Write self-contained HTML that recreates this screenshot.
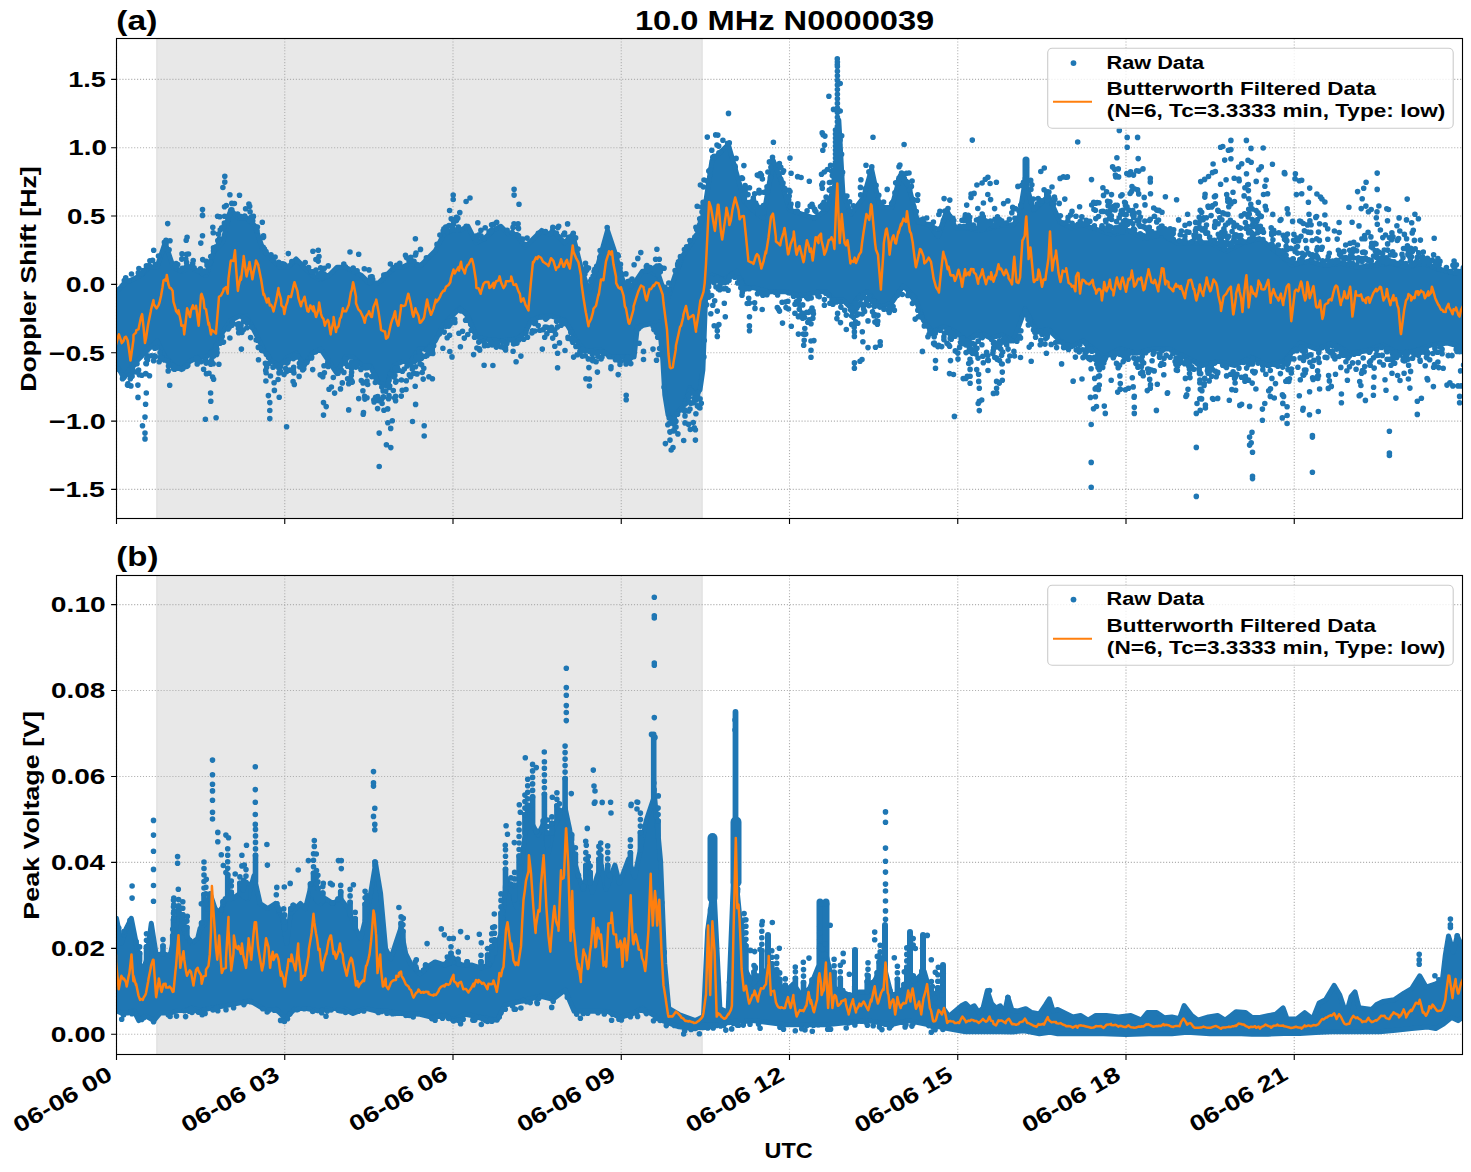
<!DOCTYPE html><html><head><meta charset="utf-8"><style>html,body{margin:0;padding:0;background:#fff;overflow:hidden}</style></head><body><svg width="1471" height="1172" viewBox="0 0 1471 1172" style="display:block">
<rect width="100%" height="100%" fill="#fff"/>
<defs><clipPath id="c1"><rect x="116.5" y="38.5" width="1346" height="480"/></clipPath><clipPath id="c2"><rect x="116.5" y="575.5" width="1346" height="479"/></clipPath></defs>
<g id="p1"><rect x="156.5" y="38.5" width="546" height="480.0" fill="#e8e8e8"/><path d="M156.9 38.5V518.5M702.1 38.5V518.5" stroke="#dfdfdf" stroke-width="1"/>
<path d="M116.50 38.5V518.5M284.75 38.5V518.5M453.00 38.5V518.5M621.25 38.5V518.5M789.50 38.5V518.5M957.75 38.5V518.5M1126.00 38.5V518.5M1294.25 38.5V518.5M116.5 489.40H1462.5M116.5 421.07H1462.5M116.5 352.73H1462.5M116.5 284.40H1462.5M116.5 216.06H1462.5M116.5 147.73H1462.5M116.5 79.39H1462.5" stroke="#b0b0b0" stroke-width="1.11" stroke-dasharray="1.11 1.83" fill="none"/>
<g clip-path="url(#c1)"><path d="M116.5 291.8 124.2 283.6 132.4 279.5 140.6 275.4 148.7 267.2 156.9 267.2 165.1 242.7 173.3 267.2 181.5 271.3 189.7 267.2 197.9 271.3 206.1 275.4 214.2 250.9 222.4 242.7 230.6 209.9 238.8 218.1 247 218.1 255.2 226.3 263.4 250.9 271.5 259 279.7 267.2 287.9 267.2 296.1 259 304.3 267.2 312.5 275.4 320.7 279.5 328.9 275.4 337 267.2 345.2 267.2 353.4 271.3 361.6 275.4 369.8 283.6 378 283.6 386.2 275.4 394.3 267.2 402.5 267.2 410.7 263.1 418.9 267.2 427.1 259 435.3 250.9 443.5 234.5 451.7 230.4 459.8 230.4 468 226.3 476.2 242.7 484.4 238.6 492.6 230.4 500.8 226.3 509 234.5 517.1 234.5 525.3 246.8 533.5 238.6 541.7 230.4 549.9 234.5 552.3 230.4 564.6 242.7 572.7 234.5 580.9 267.2 589.1 291.8 597.3 267.2 607.5 230.4 615.7 254.9 626 291.8 634.1 283.6 642.3 271.3 650.5 271.3 658.7 275.4 666.9 300 675.1 275.4 683.3 254.9 691.5 242.7 699.6 230.4 705.8 201.7 711.9 160.8 720.1 152.6 728.3 144.4 736.5 173.1 744.7 201.7 752.9 209.9 763.1 218.1 773.3 160.8 781.5 181.3 789.7 209.9 802 214 814.3 218.1 826.5 209.9 834.7 185.4 838.8 119.9 842.9 193.5 851.1 214 863.4 197.6 871.6 169 879.9 207.2 891.6 207.4 900.3 175.5 909 187.1 917.7 221.9 929.3 224.8 938.1 236.4 946.8 210.3 955.5 227.7 967.1 227.7 978.7 230.6 990.3 227.7 1001.9 224.8 1013.5 224.8 1019.3 216.1 1025.1 181.3 1033.8 210.3 1048.4 195.8 1060 221.9 1071.6 227.7 1083.2 224.8 1111.9 234.5 1128.3 230.4 1144.7 238.6 1161 234.5 1177.4 242.7 1193.8 242.7 1210.2 242.7 1226.5 250.9 1242.9 242.7 1259.3 238.6 1275.7 250.9 1292 265.2 1308.4 261.1 1324.8 265.2 1341.1 263.1 1357.5 267.2 1373.9 265.2 1390.3 263.1 1406.6 267.2 1423 263.1 1439.4 269.3 1455.8 273.4 1462.5 273.4 1462.5 347 1447.6 343 1431.2 345 1414.8 351.1 1398.5 353.2 1382.1 345 1365.7 351.1 1349.3 353.2 1333 343 1316.6 349.1 1300.2 343 1283.8 361.4 1267.5 365.5 1251.1 357.3 1234.7 365.5 1218.3 361.4 1202 365.5 1185.6 357.3 1169.2 349.1 1152.9 349.1 1136.5 353.2 1120.1 349.1 1103.7 357.3 1083.2 340.9 1071.6 346.7 1060 340.9 1048.4 329.3 1036.7 332.2 1025.1 309 1013.5 340.9 1001.9 335.1 990.3 338 978.7 332.2 967.1 340.9 955.5 332.2 943.9 326.4 932.2 332.2 923.5 320.6 914.8 297.4 903.2 285.8 891.6 303.2 879.9 307.4 867.5 291.8 859.3 295.9 851.1 308.2 842.9 300 834.7 300 826.5 291.8 818.3 291.8 802 295.9 785.6 291.8 769.2 291.8 752.9 287.7 744.7 287.7 736.5 271.3 724.2 279.5 711.9 275.4 705.8 291.8 702.9 370 700 390 695.1 394.9 689.8 388 684.9 403.9 677.9 412.1 671.8 419.9 668.1 415 664.8 394.9 662.8 360.1 659.1 322.1 637.4 326.6 634.1 356.9 610.8 356.9 600.2 349.9 585 351.1 576.8 340.9 564.6 320.4 552.3 316.3 541.7 316.3 531.1 320.4 525.3 332.7 517.1 338.9 500.8 340.9 484.4 338.9 476.2 336.8 468 316.3 459.8 308.2 451.7 316.3 443.5 324.5 435.3 340.9 427.1 349.1 418.9 349.1 410.7 361.4 402.5 361.4 394.3 365.5 386.2 385.9 378 381.8 369.8 365.5 361.6 365.5 353.4 357.3 345.2 357.3 337 373.7 328.9 361.4 320.7 349.1 312.5 353.2 304.3 365.5 296.1 353.2 287.9 357.3 279.7 365.5 271.5 361.4 263.4 349.1 255.2 332.7 247 316.3 238.8 316.3 230.6 320.4 222.4 332.7 214.2 349.1 206.1 357.3 197.9 357.3 189.7 361.4 181.5 369.6 173.3 365.5 165.1 357.3 156.9 340.9 148.7 349.1 140.6 357.3 132.4 365.5 124.2 377.7 116.5 365.5Z" fill="#1f77b4" stroke="#1f77b4" stroke-width="5" stroke-linejoin="round"/>
<path d="M1026 187.2V160" stroke="#1f77b4" stroke-width="7" stroke-linecap="round" fill="none"/>
<path d="M1047 200.2V192" stroke="#1f77b4" stroke-width="6" stroke-linecap="round" fill="none"/>
<path d="M145 417.1h0M145 433.1h0M145 438.9h0M202.5 209.6h0M202.5 215.4h0M202.5 235.8h0M187.1 237.2h0M167.7 223.6h0M224.8 176.3h0M224.8 182.1h0M269.8 402.6h0M269.8 410.5h0M269.8 418.6h0M286.6 426.7h0M323.5 415.1h0M323.5 402.6h0M205.4 419.2h0M216.1 417.7h0M169.7 385.2h0M153.7 250.3h0M318.3 250.3h0M514.1 189.3h0M514.1 195.1h0M453.2 195.1h0M453.2 199.5h0M470 198h0M415.4 238.7h0M348.7 409.9h0M363.2 414.2h0M379.2 466.5h0M379.2 433.1h0M386.4 444.7h0M390.8 447.6h0M412.5 421.5h0M424.2 425.8h0M424.2 436h0M557.6 353.3h0M557.6 367.8h0M548.9 328.6h0M479.3 348.9h0M517 343.1h0M348.7 383.8h0M351.6 372.2h0M728.5 113.4h0M700.4 185h0M700.4 222.2h0M717.8 135.1h0M743.9 165.6h0M759 175.8h0M759 190.3h0M574.4 339.9h0M589.4 386h0M589.4 379.1h0M597.4 372.1h0M626.2 395.2h0M626.2 399.8h0M643.5 359.5h0M643.5 351.4h0M665.4 443.6h0M670 432.1h0M670 440.1h0M685 415.9h0M685 422.9h0M695.4 429.8h0M695.4 440.1h0M717.3 311.1h0M717.3 330.7h0M717.3 336.4h0M725.3 316.8h0M749.5 316.8h0M749.5 330.7h0M747.2 303.5h0M762.2 309.5h0M779.5 311.1h0M837.3 58.9h0M837.3 64.7h0M822.2 132.9h0M822.8 150.3h0M824.3 172h0M873 137.2h0M904.1 144.5h0M972.3 140.1h0M985.3 179.3h0M996.4 182.2h0M840.2 83.5h0M841.7 135.8h0M798.4 316.8h0M798.4 334.1h0M811 323.7h0M811 341h0M811 350.3h0M811 357.2h0M824.4 299.6h0M824.4 305.3h0M836.4 301.9h0M837.6 313.4h0M846.3 329.5h0M854.4 336.4h0M854.4 362.9h0M854.4 368.2h0M857.8 323.3h0M864.1 304.9h0M877.4 324.2h0M880.2 341.7h0M880.2 345.2h0M891.7 309.5h0M907.8 295.4h0M922.4 351.4h0M935.5 360.6h0M935.5 368.2h0M947 343.3h0M950.5 360.6h0M953.5 374.5h0M954.4 416.4h0M963.2 378.6h0M970.1 369.4h0M970.1 376.3h0M970.1 383.2h0M979.3 388.3h0M979.3 401.4h0M979.3 410.6h0M996.6 381.4h0M996.6 388.3h0M996.6 392.9h0M1002.3 372.1h0M1002.3 380.2h0M997.3 359.5h0M1008.1 349.1h0M837.4 62h0M837.4 66.6h0M837.4 71.2h0M837.4 75.8h0M837.4 80.4h0M837.4 85h0M837.4 89.6h0M837.4 94.2h0M837.4 98.8h0M837.4 103.4h0M837.4 108h0M837.4 112.6h0M837.4 117.2h0M837.4 121.8h0M837.4 126.4h0M837.4 131h0M837.4 135.6h0M837.4 140.2h0M837.4 144.8h0M837.4 149.4h0M837.4 154h0M837.4 158.6h0M837.4 163.2h0M837.4 167.8h0M837.4 172.4h0M837.4 177h0M837.4 181.6h0M837.4 186.2h0M835.5 130h0M835.5 134h0M835.5 138h0M835.5 142h0M835.5 146h0M835.5 150h0M835.5 154h0M835.5 158h0M835.5 162h0M835.5 166h0M835.5 170h0M835.5 174h0M835.5 178h0M835.5 182h0M839.5 140h0M839.5 144.5h0M839.5 149h0M839.5 153.5h0M839.5 158h0M839.5 162.5h0M839.5 167h0M839.5 171.5h0M839.5 176h0M839.5 180.5h0M1077.7 142h0M1127.2 137.4h0M1137.6 137.4h0M1127.2 147.3h0M1116.9 157.7h0M1230.9 140.4h0M1230.9 149.6h0M1230.9 158.8h0M1220.6 147.3h0M1212.5 172.6h0M1220.6 184.2h0M1150.3 178.4h0M1150.3 181.9h0M1091.5 179.6h0M1066.2 177.2h0M1044.3 168h0M1040.8 171.5h0M1090.4 397.3h0M1134.1 397.3h0M1167.6 392.7h0M1201 398.5h0M1212.5 398.5h0M1073.1 381.2h0M1120.3 383.5h0M1120.3 389.3h0M1061.6 363.9h0M1091.2 424.5h0M1091.2 462.4h0M1091.2 487.3h0M1196.3 447.4h0M1196.3 496.4h0M1090.4 397.4h0M1093.5 408.8h0M1096.5 406.5h0M1105.3 413.4h0M1134.3 396.3h0M1134.3 407.3h0M1134.3 413.4h0M1156.4 410.4h0M1167.3 393.3h0M1196.3 413.4h0M1197 403.5h0M1201.6 398.9h0M1205.4 405h0M1205.4 408h0M1213.3 399.2h0M1229.3 400.2h0M1073.2 381.1h0M1082 379h0M1120.1 389h0M1125.4 389.8h0M1128.5 388.3h0M1150.3 388.3h0M1246.4 140.4h0M1251 148.4h0M1263.2 148h0M1251.2 162.3h0M1261.3 166.9h0M1284.4 172.6h0M1295.4 173.8h0M1301.7 180.2h0M1309.7 188.1h0M1377.2 173.1h0M1377.2 189.4h0M1378.9 206h0M1407.2 199.1h0M1406.5 219.9h0M1348.9 207.2h0M1434.2 238.3h0M1252 432.3h0M1249.6 437.1h0M1251.2 442.7h0M1249.6 445.1h0M1252.5 452.3h0M1252.5 476.2h0M1252.5 478.6h0M1312.4 435.5h0M1312.4 437.1h0M1312.4 472.2h0M1389.4 431.2h0M1389.4 453.1h0M1389.4 455.5h0M1262.4 420.3h0M1287.1 406.7h0M1287.1 415.5h0M1287.1 423.5h0M1282.3 417.9h0M1309.5 414.7h0M1318.3 411.5h0M1417.3 414.4h0M1417.3 401.2h0M1341.4 394h0M1341.4 402.7h0M1365.4 400.4h0M1459.6 396.4h0M1459.6 402.7h0M1241.6 404.3h0M1249.6 406.4h0M1262.4 409.1h0M1264.8 403.5h0M1270.3 396.4h0M1274.3 398h0M117 290.1h0M123.3 284.7h0M124.3 280.6h0M125.7 277.7h0M129.1 281.1h0M131.5 274h0M138.3 272.9h0M138.9 268.5h0M141.8 273.6h0M143.4 270.6h0M146.4 265.9h0M149.3 265.6h0M149.9 260.8h0M152.6 260.3h0M155.2 264.2h0M158.5 256h0M164.4 242.2h0M166.5 241.1h0M166 240.3h0M166 243.5h0M169.1 249.7h0M170 240.7h0M176 266.4h0M176.1 263.6h0M175.5 265.5h0M177.7 264.6h0M180.4 270.3h0M182 253.8h0M181.8 259.1h0M182.3 268.4h0M185.8 267.3h0M186.2 240.3h0M185.8 259.1h0M186.6 262.4h0M186.8 265.2h0M186.8 254.3h0M187.2 265.9h0M188.5 254h0M191.2 266.7h0M193.2 260.5h0M192.7 263.5h0M194.1 267.7h0M198.7 270.8h0M200.4 268.7h0M200.8 243.1h0M201.1 270.8h0M202.4 273.3h0M202.7 259.6h0M204.4 271h0M205.6 271.7h0M206.4 261.4h0M207.4 262.6h0M207 265.3h0M208.4 264.5h0M210.4 262h0M210.7 256.6h0M212.8 227.2h0M213.2 232.7h0M213.5 247.8h0M213.5 250.9h0M216 246.8h0M218.3 234.1h0M217.8 240.6h0M218.4 242.2h0M218.5 234h0M217.6 216.2h0M218.9 240.2h0M219.5 238.9h0M219.8 216.8h0M220.3 229.8h0M221.7 227.9h0M222.9 187.5h0M224.4 223.1h0M223.8 226.6h0M224.5 206.8h0M224.6 216.2h0M226.3 205.5h0M227.5 221.2h0M228 218.6h0M229.3 214.9h0M229.9 194.8h0M231.8 203.4h0M231.8 209.8h0M234.4 203.5h0M237.6 214h0M239.5 195.2h0M240.3 216.3h0M244.7 216.1h0M245.6 208.8h0M248.9 204h0M249.7 220.9h0M250.1 211.8h0M249.7 206.2h0M251.1 217.3h0M251.5 221.4h0M252.8 220.8h0M253.5 216.4h0M257.4 227.1h0M257 230.6h0M262.3 222.2h0M263.2 247.3h0M263.1 237.4h0M263.6 236.9h0M263.5 235.8h0M264.4 249h0M266 251.6h0M266.4 253.2h0M271 254.8h0M272.3 259.4h0M272 258.6h0M275.1 257.1h0M278.9 264.2h0M278.7 262.2h0M282.1 263.9h0M284 265.9h0M283.7 264h0M285.1 265.1h0M288.3 253.6h0M291.8 261.5h0M305.2 262.5h0M308.6 267.6h0M311.4 271.9h0M313.4 271.6h0M312.9 251.2h0M315.9 259.5h0M316 270h0M318 274.1h0M318.2 261.1h0M317.9 275.9h0M319 256.5h0M321.1 273h0M320.7 267.8h0M321.7 277.9h0M322.3 276.6h0M324 273.9h0M324.3 268.3h0M325.6 275.5h0M327.2 275.9h0M328.3 265.9h0M343.8 264.1h0M345.4 266.7h0M350 252h0M353.2 268.1h0M353.5 269.3h0M357.1 270.9h0M358.7 254.3h0M364.3 268.8h0M369 269.9h0M369.8 279.7h0M370 282.4h0M371.2 279.3h0M370.9 280.3h0M370.5 277.1h0M371.9 276.8h0M372.1 276.8h0M372.7 279.4h0M376.3 283.2h0M383.9 275.7h0M383.8 275.1h0M386.1 274.5h0M390.4 264h0M393.2 268.4h0M396.6 265.2h0M397.2 266.8h0M400.2 266.4h0M399.8 263.3h0M405.5 255.4h0M406.5 257.6h0M409 260.6h0M410.8 257.3h0M414 261.2h0M415.5 254.9h0M416 253h0M417.2 264.5h0M420.5 249.4h0M420.5 265h0M426.4 257.9h0M427.6 258.1h0M437 244.4h0M439.9 235h0M443.2 230.8h0M443.9 228.9h0M445.7 227.1h0M447.3 226.9h0M446.9 231.4h0M449 225.6h0M449.6 210.5h0M451.2 218.8h0M452.5 227.7h0M452.7 229.8h0M452.5 225.3h0M453.4 221.1h0M453.6 224h0M455 230h0M456.4 220.4h0M456.4 217.2h0M457 230.2h0M457.3 229.5h0M458.4 227.1h0M457.8 229.8h0M457.8 218.2h0M459.8 212.6h0M466.1 201.5h0M466.2 226.4h0M473.8 237.4h0M476.3 239.4h0M475.9 236.1h0M476.8 238.8h0M477.6 236h0M477.8 222.7h0M479 234.8h0M480.9 235.8h0M480.9 230.3h0M484 238.4h0M485.2 227.7h0M489.1 231.9h0M490.8 231.8h0M490.6 230.7h0M491.9 230h0M491.6 224.8h0M493.7 224.3h0M496.7 222.4h0M507.2 230.2h0M512.2 232.6h0M513 227.4h0M514 223.8h0M518.5 235.7h0M518.1 223.8h0M518.3 228h0M518.5 228.6h0M519 204.2h0M522.6 239h0M525.5 244.5h0M527.1 238.1h0M538.3 233.4h0M545.5 231.6h0M552.8 227.4h0M556.4 233.2h0M557.9 227.6h0M558.6 236.8h0M558.7 226.3h0M563.6 234.7h0M564.6 233.1h0M568.4 237.3h0M567.6 223.9h0M573.3 233.2h0M575.6 237.9h0M578 249h0M583.4 269.9h0M584.9 274h0M585.5 263.2h0M586.1 267.1h0M586.4 269.9h0M586.6 270.2h0M588.5 268.1h0M588 286h0M589.4 288.6h0M590.8 280.7h0M591.6 279.1h0M593.1 276.2h0M594.1 271.6h0M593.9 276h0M594.8 269.4h0M595.9 269.4h0M596.7 266.2h0M599.8 257.2h0M600.1 250.5h0M607.2 227.5h0M618.3 256h0M617.7 254.9h0M620.5 264.3h0M620.1 268.1h0M620.8 273.8h0M620.8 273.1h0M624.2 284.2h0M624.7 286h0M625.6 288.7h0M625.9 273.9h0M627.8 281.5h0M627.8 284.5h0M629.3 285.5h0M629.3 281.1h0M631.1 286h0M632 279.1h0M634.1 264.7h0M635 281.9h0M637.8 258.4h0M640.8 252.6h0M645.5 270.9h0M646.3 266.5h0M646.9 265.5h0M648.4 270.3h0M650.3 267.5h0M650.8 268.8h0M654.5 269.1h0M655.2 271h0M655.5 267.3h0M655.6 259.2h0M657.3 268.8h0M656.9 266h0M656.9 249.3h0M658 274.5h0M659.2 265.7h0M659.3 259.2h0M660.3 271.8h0M661.1 267.6h0M664.1 268.2h0M664.9 287.2h0M665.3 292.8h0M666.2 292.8h0M668.9 289.6h0M668.8 283h0M675.1 270.6h0M677.7 264h0M678.5 261.8h0M677.7 264.9h0M678.5 266.3h0M677.7 265.6h0M680.2 260.3h0M680.4 256.5h0M684.4 249.5h0M686.6 246.9h0M689.9 240.6h0M694.9 237.1h0M695.9 227.2h0M696.3 235.8h0M697.2 206.2h0M696.7 229.4h0M698.1 230.4h0M699.5 225h0M699.7 218.7h0M702 212h0M701.5 207.1h0M703.1 202.4h0M704 209.3h0M703.5 187h0M704 180h0M704.6 202.5h0M707.3 137.1h0M707.2 180.9h0M708.8 171.1h0M709.8 170.1h0M711.8 150.2h0M712.8 157.4h0M714 156.3h0M715.7 134.9h0M717 145.1h0M718.7 146.1h0M719 152.8h0M720.4 152.2h0M722.9 140.2h0M727.7 143.4h0M729.3 142.9h0M735.3 167.1h0M735 166h0M736.1 158.4h0M741.8 177.8h0M742.5 178.5h0M742.9 194.8h0M743.2 188h0M744.4 198.2h0M744.3 187.7h0M745 191.4h0M745.1 185.5h0M747.5 188h0M748 194.6h0M747.5 202.5h0M748.2 203.3h0M749.5 187.7h0M750 202.3h0M752 201.5h0M752.9 203.9h0M753.3 198h0M752.7 206.3h0M753.5 200h0M754.7 193.8h0M755.7 203.1h0M756.7 205.4h0M757.4 208.5h0M757.3 175.1h0M757.6 209.4h0M758.1 213.5h0M759.4 193h0M759.1 207.6h0M760.3 173.6h0M760.5 209.7h0M761.9 213.2h0M761.5 175.2h0M762.4 179h0M763.1 210.3h0M762.6 212.7h0M763.4 205.6h0M764.1 212.1h0M763.9 192.2h0M765.6 191.9h0M765.5 191.9h0M766.9 191.8h0M767.1 187.6h0M767 186.8h0M767.9 172h0M769.4 161.9h0M770.4 177.4h0M770.9 167.2h0M773.4 142.3h0M772.5 157.3h0M778.1 164.9h0M779.4 163.6h0M780.8 179.2h0M780.8 167.4h0M783 183h0M782.8 172.3h0M783.6 170.7h0M784.8 188.6h0M786.3 196.6h0M788.7 199.8h0M789.2 196h0M789.1 190.4h0M790.4 207.1h0M790.1 206.2h0M790 158.1h0M790 191.5h0M791 204h0M791.1 173.2h0M795.8 211.6h0M797.3 212.2h0M797.3 211.2h0M797.7 176.5h0M797.7 205.4h0M797.8 203.9h0M797.6 176.8h0M801.1 177.5h0M804.6 214.8h0M807.1 210.9h0M809.3 181.3h0M810.2 206h0M810.7 206.2h0M812 204.2h0M812.8 206.8h0M814.3 217.8h0M814.9 210.6h0M814.7 209.4h0M814.8 210.2h0M815.9 211.5h0M820.5 206.6h0M822.4 204.7h0M821.5 174.3h0M821.8 184.9h0M822.3 188.2h0M823.2 208.9h0M823.1 134.8h0M823.5 205.8h0M822.7 183h0M823.9 202.4h0M824.5 145.1h0M824.9 136.1h0M824.5 203.9h0M824.7 203.6h0M826.1 197h0M827.4 169.5h0M827.2 208.5h0M827 198h0M828.9 96.2h0M829.3 190.1h0M829.4 182.5h0M829.1 199h0M830.3 182.5h0M830.6 165.2h0M831.1 188.8h0M832.3 175.6h0M832.1 191.8h0M831.7 170.9h0M833.5 109.4h0M834.2 179.6h0M834.2 169.7h0M835.5 163.2h0M836.5 139.1h0M836.7 148.7h0M836.8 143.5h0M836.8 129.5h0M837.9 129.8h0M840.2 111h0M839.8 140.9h0M840.1 140.1h0M841.7 174.8h0M841.6 154.2h0M842.6 172.2h0M845.2 196.3h0M846.9 196.1h0M849.6 210.8h0M849.6 201.7h0M853.4 205.8h0M860.4 187.4h0M860.9 179.7h0M860.7 194.9h0M865.3 188.9h0M866 165.3h0M868.9 171.9h0M871.8 166.9h0M876.1 185.4h0M878.8 195.2h0M879.7 203.1h0M881.7 206.9h0M881.9 205.4h0M883.6 202h0M887.2 189.4h0M891.6 203.6h0M892.8 202.1h0M895.3 193.3h0M894.9 192.7h0M895.7 182.8h0M898.5 182.7h0M898 182.5h0M898.7 179.4h0M899 178.1h0M899 166.8h0M899.9 165h0M901.4 175h0M901.6 173h0M902.6 176.5h0M904 180.2h0M904.3 178.4h0M906.4 173.2h0M906.1 182.3h0M905.8 181.1h0M907.4 182.4h0M909 173h0M909.6 189.9h0M911.4 186.4h0M910.8 186.3h0M912.1 181h0M913.4 199.5h0M913.5 200.4h0M913.7 206.8h0M916.3 211.6h0M917.5 200.2h0M917.8 194.7h0M918.9 221.8h0M921.2 219.9h0M923.2 219h0M923.6 222.9h0M926.7 218h0M929.1 224.6h0M932 224.4h0M933.4 222.1h0M934.9 228.3h0M938.9 214.5h0M938.7 229.1h0M939.9 211.4h0M943.4 220.5h0M944.1 198.6h0M945 211h0M948 208.5h0M949.8 216.2h0M949.8 200.1h0M952.9 218.2h0M953.8 220.5h0M959.9 226.4h0M962 220.2h0M964.2 226.9h0M963.9 226.2h0M965 220.2h0M965.1 216.8h0M965.4 214.7h0M965.8 217.7h0M966.7 205.1h0M968.3 224.9h0M968.3 215.4h0M968.4 226.9h0M968.3 223.9h0M969.2 221.8h0M969.2 220.5h0M968.9 223.1h0M969.7 217.2h0M971.1 194.1h0M971 197.4h0M972.5 226.4h0M973.3 225h0M974.1 193.4h0M974.6 227.9h0M976.5 220h0M976.9 185h0M977.9 219.6h0M977.8 208.5h0M979.3 224.5h0M979.7 228.6h0M981 220.4h0M980.8 218h0M982.1 183h0M982.2 214.1h0M983.3 216.9h0M983.2 223.6h0M983.4 203h0M983 226.8h0M983.8 228.5h0M985.5 220.8h0M986.1 222.2h0M987.4 225.1h0M987.8 194.5h0M987.9 177.2h0M990.4 221h0M990.1 183.5h0M991.3 223.9h0M990.7 222.3h0M990.6 199.6h0M992.9 225.8h0M994.3 225.3h0M994.6 208.6h0M995 219.2h0M996.7 223.4h0M997.5 216.7h0M998.1 224.3h0M999.3 219.4h0M1001.7 220.7h0M1002 222.3h0M1003.6 203.6h0M1006.2 223.1h0M1007.9 200.9h0M1009.4 219.3h0M1011.8 212.7h0M1012.7 207.4h0M1013.3 208.6h0M1014.9 218.2h0M1015.6 208.7h0M1017.9 186.4h0M1019 211.1h0M1020.7 205.4h0M1021.2 205.9h0M1021.9 185.4h0M1024.3 186.7h0M1023.5 182.4h0M1025.4 178.5h0M1026.3 167.2h0M1026.6 181.9h0M1030.7 180.4h0M1030.9 189.5h0M1031.9 184.7h0M1031.5 202.2h0M1033.3 199.1h0M1034 208.9h0M1035.3 207.4h0M1037.5 203.8h0M1038.2 198.6h0M1041.1 200.7h0M1041.9 201.1h0M1044.1 189.8h0M1047 196.5h0M1048.9 192.1h0M1052 187h0M1053.5 203.9h0M1054.4 197.1h0M1053.6 204h0M1054.9 199.3h0M1059.2 203.4h0M1060.1 178.4h0M1060.3 215.7h0M1062.5 222.7h0M1063.4 176.9h0M1064.8 199.1h0M1066 222.9h0M1067.4 176.9h0M1068.1 217.4h0M1067.9 220.7h0M1070.6 214.9h0M1072.1 223.4h0M1072 211.4h0M1074.2 225.7h0M1076 216.3h0M1078.1 224.2h0M1079 224.6h0M1079.7 224h0M1079.6 206.8h0M1080.2 221.5h0M1081.8 216.9h0M1083.1 224.3h0M1083.5 224.4h0M1086.3 220.2h0M1087.3 223.9h0M1089.9 221.3h0M1091.7 205h0M1093.9 227.4h0M1093.7 202.3h0M1094.4 225.8h0M1093.9 209.5h0M1095.4 210.3h0M1095.8 218.6h0M1095.8 203.3h0M1097.2 202.5h0M1098.9 202.7h0M1098.5 216.5h0M1101.4 211.5h0M1101.8 226.9h0M1102 225.7h0M1102.9 227.7h0M1103.1 211.4h0M1102.9 187.8h0M1103.5 195.4h0M1105.6 220.2h0M1105.9 221.6h0M1106.1 230.3h0M1106.8 211.9h0M1106.6 191.8h0M1108 213.2h0M1108.2 225.9h0M1108.1 205.8h0M1107.6 201.2h0M1109.3 218.2h0M1109.6 229.9h0M1109.9 201.8h0M1110.6 210.3h0M1111.5 194.6h0M1111.3 215.7h0M1110.5 226.9h0M1111.6 219.5h0M1112.6 166.9h0M1112.8 206.7h0M1114.3 231.8h0M1113.9 207.6h0M1115.1 209.9h0M1115.4 175.1h0M1115.1 227.9h0M1114.7 169.2h0M1115.5 205.2h0M1116.5 221.6h0M1115.8 177h0M1117.2 205.4h0M1118.3 168.9h0M1117.7 228h0M1117.8 227.5h0M1119.3 228.2h0M1119.3 130.4h0M1118.6 176.9h0M1119.2 217.7h0M1119.7 231.3h0M1120.8 196h0M1121.1 224.8h0M1121.3 210.7h0M1120.6 214.5h0M1120.7 230h0M1122.1 194.8h0M1122.5 231.7h0M1122 213.8h0M1122.8 231.3h0M1122.8 210.3h0M1123.8 222.6h0M1123.5 221.6h0M1125.4 203h0M1124.7 214.5h0M1125.2 220.4h0M1125.2 227.7h0M1124.5 227.8h0M1124.6 202.3h0M1125.4 205.3h0M1126.2 214.6h0M1126.3 207.8h0M1126 225.6h0M1126.6 223.6h0M1126.8 173.6h0M1127 206.7h0M1127.5 224.5h0M1127.8 221.4h0M1129 174.8h0M1128.8 210.1h0M1130.1 193.5h0M1130.7 171.7h0M1130.6 231.1h0M1130.7 221.8h0M1131.9 231.2h0M1132 186.6h0M1132.3 214.5h0M1131.5 191.6h0M1133 213.1h0M1132.7 210.5h0M1132.9 223.7h0M1133.5 175.1h0M1133.7 212.8h0M1134 215.4h0M1133.6 228.9h0M1133.6 217.3h0M1134.4 188.7h0M1134.6 229.9h0M1135.9 205.7h0M1136.7 170.8h0M1137.2 220.4h0M1138.2 158.6h0M1137.6 189.9h0M1139 220.6h0M1138.9 212.5h0M1138.7 193.9h0M1138.8 171.1h0M1138.9 224.6h0M1140.1 226.3h0M1140.2 233.9h0M1140.3 217.1h0M1142.1 226.5h0M1143 168.9h0M1143.1 235.5h0M1144 226.9h0M1144.2 197.4h0M1145 204.9h0M1144.8 221.1h0M1145.8 228.2h0M1145.7 227.8h0M1147 237.5h0M1146.8 235.7h0M1148 231h0M1149.2 233.3h0M1148.9 234.3h0M1149.3 220.5h0M1149.3 227.4h0M1150.3 219.3h0M1150 235.5h0M1150.5 193.7h0M1151.8 231.6h0M1152 233.7h0M1153.4 236.2h0M1153.7 208h0M1154.4 216.3h0M1155 235.6h0M1155.7 233.4h0M1155.5 234.5h0M1157 235.4h0M1156.7 221.9h0M1156.7 210.1h0M1158.5 220h0M1158.5 232.2h0M1158.9 210.4h0M1158.9 228.2h0M1160.4 229.4h0M1161.2 226.4h0M1161.9 232.7h0M1162 212.3h0M1162 226h0M1162.9 231.5h0M1165.4 196.8h0M1164.9 228.8h0M1164.7 230.5h0M1166.4 233.1h0M1166.2 236h0M1165.8 230.7h0M1168.3 237.8h0M1168.6 235.3h0M1169.6 236.6h0M1170.2 228.9h0M1170.6 238.7h0M1171.2 231.4h0M1171.1 236.5h0M1171.8 234.7h0M1172.2 233.9h0M1173.3 239.4h0M1172.8 233.1h0M1173.2 233.4h0M1173.7 229.8h0M1176.6 199.7h0M1179.2 240.7h0M1178.6 219.9h0M1180.2 234.7h0M1181.4 231.1h0M1184.2 240.5h0M1184.9 236.3h0M1185 225.2h0M1184.7 242.4h0M1184.9 239.9h0M1186.8 231.8h0M1187.6 214.3h0M1189.4 223.6h0M1189 232.3h0M1191.7 241.7h0M1194 235.2h0M1194.5 238.1h0M1195.4 230.5h0M1195.6 233.1h0M1195.6 222.4h0M1196.1 228.5h0M1198.3 237.2h0M1198.9 223.2h0M1199.3 228.2h0M1199.4 236.4h0M1199.2 217.3h0M1200.2 227.9h0M1200.2 210.3h0M1199.9 240.9h0M1200.1 240.5h0M1201.4 242.5h0M1200.9 228.7h0M1200.7 181.6h0M1200.6 219.9h0M1202.1 229.9h0M1201.7 212.2h0M1203.1 219.7h0M1203.5 217.9h0M1205.1 228.2h0M1204.8 197.1h0M1205.1 231.4h0M1205.1 194.2h0M1204.6 179.4h0M1206.5 225h0M1205.9 233.2h0M1206.3 217.8h0M1208.4 206.2h0M1207.6 232.9h0M1208.5 176.5h0M1208.4 207.2h0M1208 206.2h0M1209.7 237h0M1209.6 237.4h0M1211.1 215.6h0M1210.8 240.5h0M1211.6 206.9h0M1213.1 164h0M1212.7 205.6h0M1214.4 196.7h0M1214.3 240.3h0M1215.3 203.7h0M1214.7 225.4h0M1214.6 227.2h0M1215.3 221.6h0M1215.3 171.5h0M1215.6 243h0M1215.5 195.9h0M1218.1 223.7h0M1217.8 210.4h0M1218.3 234.2h0M1219.2 237.5h0M1219 243.6h0M1218.5 211.3h0M1219.9 244.9h0M1219.8 217.7h0M1220.3 235.1h0M1220.4 241.2h0M1219.7 243.5h0M1221.3 240.9h0M1221.9 219.8h0M1222.4 236.8h0M1221.8 232.3h0M1222.8 212.9h0M1222.7 146.5h0M1223.8 235.8h0M1224 249.5h0M1223.9 228.9h0M1224 230.2h0M1224.6 246.9h0M1224.6 234.5h0M1225 232.7h0M1224.7 160.1h0M1224.9 242.8h0M1224.8 213.7h0M1225.6 225h0M1226.4 242.9h0M1226.1 179.8h0M1227.4 237.7h0M1226.7 194.6h0M1227.1 243.7h0M1226.9 242.6h0M1227.9 214.4h0M1227.7 198.8h0M1228.4 150.2h0M1227.8 237.4h0M1227.8 201.5h0M1228.2 222.9h0M1228.8 206.8h0M1228.6 236.3h0M1229.3 199.8h0M1230.4 220.3h0M1230.2 204.1h0M1230 245.7h0M1231.3 242.9h0M1231 203.8h0M1232.1 231.5h0M1231.7 246h0M1233 192.3h0M1233.9 226.8h0M1234.4 201.5h0M1234.2 178.2h0M1233.8 239.9h0M1233.5 222.8h0M1234.3 236.5h0M1234.1 238.5h0M1235.8 241.9h0M1235.8 234.7h0M1236.4 235.1h0M1236.8 225.4h0M1238.4 236.2h0M1239.4 235.9h0M1239.2 227.6h0M1239.2 180.8h0M1238.9 179.1h0M1238.7 241.8h0M1238.6 167.1h0M1240.6 228.1h0M1241.2 215.9h0M1240.5 239.6h0M1240.9 235.6h0M1241.7 163.7h0M1241.8 240.6h0M1243.4 241.9h0M1244.1 195.9h0M1244.9 187.8h0M1244.5 213.9h0M1245.4 222.6h0M1245.9 228.3h0M1246.5 173.8h0M1247.1 226.2h0M1248.2 216.9h0M1248.1 229.8h0M1247.7 184.7h0M1248 160.2h0M1248.4 190.6h0M1248.3 184.5h0M1248.7 209.2h0M1248.8 198.8h0M1248.6 232.7h0M1249.3 214h0M1249.8 230.6h0M1249.7 239.3h0M1249.7 232.6h0M1249.9 239.7h0M1250 240.6h0M1250.8 204.3h0M1251.1 232.3h0M1252.3 238.3h0M1252.1 208.9h0M1252.2 219.5h0M1251.9 233.5h0M1251.5 239.9h0M1252.1 225.5h0M1253.4 238.6h0M1252.9 226.4h0M1252.6 235.4h0M1253 223.8h0M1254.1 234.2h0M1256.1 210.5h0M1256.2 181.4h0M1257.2 227.7h0M1256.7 221.4h0M1257.5 219.5h0M1257.7 232.7h0M1257.7 229.1h0M1258.1 212.8h0M1257.8 226.6h0M1257.9 213.5h0M1258.4 202.2h0M1258.8 169.7h0M1260.4 226.4h0M1259.8 215.6h0M1260.4 231.1h0M1261.3 216.4h0M1262.6 229.5h0M1263 239.5h0M1263.5 194.5h0M1263.5 232.3h0M1265.3 206.4h0M1264.9 186.3h0M1266.2 180h0M1266.2 209.8h0M1267.6 193.7h0M1271.2 227.7h0M1271.4 244.3h0M1271.7 234.8h0M1272.4 164.2h0M1271.7 232.9h0M1272.1 244.8h0M1272.9 239.7h0M1272.7 214.4h0M1273.7 230.2h0M1274.2 233.2h0M1275.5 247.4h0M1278.3 245h0M1277.8 251.6h0M1279.2 250.6h0M1278.8 232.8h0M1279.7 252.9h0M1280.1 220.5h0M1281 219.6h0M1283.3 235.4h0M1282.6 250.7h0M1283.4 253.4h0M1284.5 239.3h0M1284.3 173.2h0M1284.9 173.7h0M1286.1 255.2h0M1286.1 246.3h0M1286.1 239.4h0M1286.6 241.3h0M1287.2 208.9h0M1286.9 249.7h0M1286.9 240.9h0M1287.5 234.1h0M1287.4 259.5h0M1288 213.7h0M1290.7 260.1h0M1290.8 248.4h0M1291.7 261.8h0M1292.6 221.4h0M1292.9 258.7h0M1293.3 259.1h0M1293.9 234.2h0M1293.6 240.2h0M1294.9 241.2h0M1295 178.7h0M1295.1 251.4h0M1296.2 247.5h0M1296.4 194.6h0M1296 263.8h0M1297.4 253.1h0M1297.1 263.2h0M1296.9 238.1h0M1297.5 246.6h0M1298.5 240.7h0M1298.8 239.3h0M1299.4 180.7h0M1299.7 221h0M1299.8 259.6h0M1301 236.2h0M1301.4 261.3h0M1300.9 221.6h0M1300.9 262.1h0M1301.7 193.8h0M1302.5 257.7h0M1302.2 253.4h0M1303.3 223.5h0M1304.4 230.7h0M1304.5 254.9h0M1305.6 240.5h0M1306.6 248.4h0M1307.5 224.9h0M1308.4 202.3h0M1308.2 253h0M1308 232.1h0M1309 214.3h0M1309.9 220.8h0M1310.1 254.5h0M1311.1 224.7h0M1311.3 259.7h0M1310.8 232.4h0M1312.5 254.7h0M1312.2 240.5h0M1312.5 257.4h0M1316.2 255.3h0M1316.1 256.9h0M1315.8 217.4h0M1316.7 238.7h0M1316.5 216.6h0M1316.9 194h0M1317.4 257.1h0M1316.9 249.9h0M1316.9 256.2h0M1318.1 258.5h0M1317.5 247.5h0M1318.5 232.1h0M1319.4 240.4h0M1320.5 197h0M1319.6 223.7h0M1321.4 249.2h0M1321.9 199h0M1322.2 247.2h0M1322.6 260.8h0M1323.5 262.6h0M1324.9 202h0M1325.2 224.8h0M1325.3 265h0M1324.9 215h0M1328.3 256.5h0M1327.8 239.2h0M1327.7 228.7h0M1327.8 259.5h0M1329.3 253.3h0M1329.5 263.3h0M1329.3 264.6h0M1329.9 262.2h0M1332.7 261.1h0M1334.4 231h0M1335.4 262.5h0M1336.3 260.2h0M1337.2 239.1h0M1338.4 250.2h0M1338.1 260.7h0M1339.2 232.5h0M1339.1 222.5h0M1339.6 254.3h0M1341.3 256.8h0M1343.1 251.7h0M1343.9 260.3h0M1344 251.4h0M1345.7 257.5h0M1346.2 258.2h0M1345.7 245h0M1349.2 264.1h0M1349.1 259.6h0M1350.1 243.3h0M1349.7 250.2h0M1350.6 255.2h0M1352.2 252.7h0M1352.1 222.2h0M1352.5 263.2h0M1351.9 252.5h0M1353.4 249h0M1353 257.5h0M1353.7 242.4h0M1353.7 258h0M1354.7 250.3h0M1356.4 266.8h0M1357.4 245h0M1356.5 265.1h0M1356.7 250.8h0M1357.6 191.6h0M1358.5 260.9h0M1358.4 257.9h0M1359 225.9h0M1361.2 208.6h0M1361.9 258.5h0M1361.6 258.9h0M1362.2 198.7h0M1361.9 238.7h0M1362.1 261.5h0M1362.6 252.2h0M1363.7 188.3h0M1364.4 258.4h0M1364.1 252.1h0M1364.9 238.8h0M1364.6 235.6h0M1365.5 258h0M1365.2 252.5h0M1366.1 182.3h0M1365.9 206.1h0M1367.4 260.1h0M1366.8 265.7h0M1368.4 211.8h0M1368.1 232.2h0M1368.9 259.9h0M1371.2 264h0M1371.3 260.7h0M1370.9 236.9h0M1371.3 247h0M1371.2 209.5h0M1371.7 243.4h0M1372.4 247.8h0M1373.6 256h0M1375.2 250.8h0M1374.9 243.4h0M1376.3 217.8h0M1376.2 257.2h0M1376 244h0M1376.2 257.2h0M1375.8 251.8h0M1377.4 263.2h0M1377.2 250.7h0M1377 211.7h0M1377.3 224.2h0M1377.7 258.1h0M1378.5 252.7h0M1378.7 252h0M1378.7 262.9h0M1380.4 230h0M1381.8 257.8h0M1382.2 260.9h0M1382.8 237.6h0M1382.6 253.4h0M1384.3 262h0M1384.3 250h0M1383.6 261.7h0M1386.5 263h0M1385.5 235h0M1386.1 257.7h0M1386.8 208.8h0M1387.5 220.7h0M1387.6 250.1h0M1387.6 243.9h0M1387.8 261.1h0M1388.5 260.4h0M1388.5 209.5h0M1390.3 255h0M1389.5 237.7h0M1391.4 261.6h0M1391.6 239.7h0M1391.9 232.9h0M1393 236.7h0M1392.7 251.7h0M1394 261.9h0M1394 255.2h0M1395 254.8h0M1396.4 263.7h0M1396.9 225.7h0M1397.3 240.5h0M1397.9 263.6h0M1398.6 238.5h0M1399.1 217.9h0M1399.8 231h0M1401.3 261.8h0M1402 254.4h0M1403 257.8h0M1403.5 248.5h0M1404.4 234.4h0M1405.7 263.6h0M1405.7 248.5h0M1407.4 245.7h0M1406.6 238.8h0M1407.9 254.4h0M1408.2 250.2h0M1409 255.7h0M1410.5 258.5h0M1410.3 261h0M1409.7 256.7h0M1411.5 256.7h0M1411.2 265.1h0M1410.8 248.4h0M1411.7 222.8h0M1412.4 251.5h0M1412.2 232.9h0M1413.3 230.3h0M1413.4 264.5h0M1414.4 240.4h0M1413.8 263.3h0M1414.9 214.3h0M1415.2 248.9h0M1416.2 261.8h0M1415.6 262.5h0M1417.3 257.4h0M1418.4 218.8h0M1419.3 262.2h0M1418.7 252.9h0M1420.4 240.1h0M1422.3 259.1h0M1423.3 252.1h0M1422.5 256.9h0M1423.5 261.3h0M1425.7 261.5h0M1427.4 258.4h0M1427.5 262.1h0M1429.2 263.9h0M1432.3 266.5h0M1432.2 260.1h0M1433.6 254.7h0M1435.3 264.2h0M1435.4 261.9h0M1437.6 266.3h0M1437.9 258.6h0M1439.3 268.9h0M1439.1 264.7h0M1440 261.4h0M1446.4 267.6h0M1450.3 271.6h0M1450.5 271.8h0M1452.9 265.2h0M1454.1 261.1h0M1454.1 267.6h0M1455.5 273h0M1454.6 266.8h0M1456.4 264.8h0M1457.3 271.2h0M1458.5 272.2h0M1460.3 271.5h0M1463.3 267.9h0M1465.2 272.4h0M1469.3 268.3h0M117.7 369h0M122.5 378.8h0M122.5 374.9h0M127.5 385.1h0M127.9 383.9h0M130.3 378.7h0M129.6 374.8h0M130.9 385.9h0M132.1 376.2h0M131.7 374.4h0M132.7 371.5h0M132.6 367.8h0M134.1 371.7h0M134.7 364.4h0M136.9 371.9h0M137 363.7h0M136.5 363.6h0M138 397.4h0M137.9 385.1h0M138.6 370h0M139.3 374.7h0M141.8 375.2h0M142.5 425.7h0M145.7 373.5h0M146 373.7h0M145.6 404.3h0M146.4 363.7h0M145.9 363.6h0M146.3 393h0M146.8 358.5h0M147.5 355.7h0M147.5 360h0M149.5 375.8h0M151.3 355.7h0M153.6 360.7h0M154.2 355.9h0M155.2 356.4h0M154.8 348.3h0M156.8 347.6h0M159.2 361.8h0M160.2 357.2h0M160.1 352.6h0M162 357.9h0M164.4 359.9h0M168.2 370.9h0M168.5 366h0M167.9 361.5h0M170.5 364.7h0M172.8 365.6h0M173.5 368.7h0M174.6 369.3h0M175.9 367.8h0M178.1 368.3h0M182.9 368.6h0M186.7 366.5h0M187.8 365.4h0M195.8 358.4h0M197.2 363.9h0M197.5 357.8h0M196.9 360.4h0M200 361.3h0M200.9 361.8h0M203.6 369.2h0M205.4 360.2h0M206.1 363.1h0M206.4 373.7h0M209 373.3h0M210.6 361.9h0M210.8 401.3h0M210.6 353.3h0M211.2 360.7h0M210.8 364.3h0M210.6 393h0M212 362.3h0M212 357.5h0M213.2 363.7h0M212.6 377.1h0M213.6 379.2h0M214.4 351.4h0M213.9 355.8h0M216.2 345.6h0M216.3 346.9h0M216.6 354.4h0M217.1 352.7h0M216.9 349.2h0M219.3 342.8h0M218.9 364.2h0M220 343.2h0M221.1 339.3h0M222.2 336.4h0M223.5 342.1h0M228.1 328.9h0M229.1 327.5h0M229.9 338h0M232.4 322h0M231.9 325.2h0M237.3 324.4h0M238.4 328.5h0M238.7 332.7h0M239 323.8h0M241 325.5h0M241.4 349.1h0M241.8 332.5h0M243.4 329.7h0M243 317.4h0M243.6 321.5h0M245.6 319h0M246.9 327.8h0M247.4 320.5h0M247 322.8h0M250.6 337.6h0M251.7 327.1h0M256.2 340h0M258.3 347.4h0M258.5 359.8h0M257.5 340.3h0M259.4 347.6h0M261.6 350.2h0M262.6 350.6h0M265.4 363.4h0M265.7 370.4h0M265.9 381h0M266.3 354.3h0M266.1 372.7h0M267.3 354.6h0M266.7 367.3h0M268.4 395.6h0M268.8 363.5h0M268.6 357.6h0M270.5 376h0M273 367.2h0M274.1 382.7h0M274.4 390.4h0M275.9 365.9h0M277.1 364.8h0M278.1 379.5h0M279 368.3h0M279 372.9h0M279.2 397.3h0M279.9 368.6h0M280.5 366.5h0M280.6 371.7h0M282.8 362.6h0M284 374.5h0M285.7 368.5h0M286.6 371.6h0M286.9 363.1h0M287.8 362.3h0M288.6 359.8h0M290 370.1h0M293.1 381.5h0M293.4 370.3h0M293.4 358.6h0M293.7 367.3h0M294.3 384.4h0M293.9 373h0M294.7 355.5h0M295.1 357.5h0M297.4 355.8h0M299.4 363.2h0M299.1 376.4h0M299.8 367h0M303.3 365.5h0M302.7 370h0M303.8 368.8h0M307 362.3h0M311.5 357.9h0M311.7 357.2h0M312.7 369.6h0M315.6 351.8h0M320.2 374.7h0M320.7 374.9h0M322.8 376.7h0M324 365.8h0M324.4 372.7h0M326.2 406.6h0M327.8 362.4h0M328.2 366.4h0M329 389.2h0M331.4 387h0M333.3 377.5h0M334.6 393.1h0M338.1 373.3h0M340.5 388.9h0M341.4 370.4h0M342.3 382.9h0M343.9 372.4h0M345.3 363.2h0M345.4 358.7h0M346.1 359.1h0M346 363.4h0M347.6 378.7h0M347.6 366.3h0M349.7 365.5h0M351.3 375.6h0M351.5 368.4h0M352.3 382.1h0M351.6 380.6h0M351.7 362.1h0M354.3 364.6h0M355.9 367.1h0M356.8 366.1h0M356.6 362.1h0M358.7 398.6h0M360.9 369.4h0M361.3 380.6h0M363.5 412.5h0M362.9 390.8h0M363 382.9h0M364.8 366h0M364.6 396.2h0M364.9 399.1h0M365 366.9h0M365.6 368h0M366.8 375.1h0M367 381.1h0M367.4 367.6h0M367 397.7h0M368.4 366.1h0M367.7 384.5h0M368.3 365.8h0M368.8 366.2h0M371.7 376.6h0M374.5 375.1h0M373.8 400h0M374.1 401.9h0M375.3 382.5h0M375.9 378.1h0M375.6 397.4h0M377.4 381.1h0M377.8 396.6h0M377.6 408.6h0M378.6 400.6h0M381.5 399.5h0M382.1 403.5h0M381.8 387h0M383.1 390.9h0M383.5 396.9h0M383.9 410.3h0M385.7 391.1h0M388.5 398.7h0M388.3 383.2h0M387.8 422.7h0M387.7 408.9h0M389 395.6h0M389.1 380.2h0M389.2 397.4h0M389.4 387.4h0M389.7 386h0M390.7 428.4h0M390.5 373.9h0M392.3 420.7h0M393.3 390.5h0M394.2 377.1h0M394.9 375.5h0M395.3 368.8h0M394.7 397.9h0M396 371h0M395.7 382.1h0M396.2 381.1h0M396 367.9h0M395.6 396.4h0M395.6 400.8h0M397.5 367.7h0M398.7 370.3h0M401.4 380h0M401.3 396.1h0M402.2 390.2h0M402.4 371.3h0M404.3 369h0M406 389.5h0M406.3 380.7h0M407 365.9h0M409.3 374.9h0M410.6 376.7h0M410.9 364.8h0M412.3 369.1h0M413.6 373.5h0M414.2 373.3h0M415.5 366.7h0M414.7 361.2h0M415.2 386.2h0M415.6 404.4h0M415.8 357.7h0M417 373.9h0M416.5 356.8h0M418.4 357.3h0M417.6 359.2h0M419.4 351.7h0M420.1 363.7h0M420.2 358.4h0M419.8 356.4h0M421.5 358.2h0M421.1 355.1h0M422.2 372.5h0M421.6 364.8h0M423.2 379.1h0M423.8 368.2h0M425.4 356.2h0M426.4 350h0M427 355.4h0M427.1 350.3h0M429.4 349h0M428.9 376.7h0M430 353.5h0M430.5 347.2h0M432.4 378.8h0M432.3 351.1h0M432.3 349.7h0M432.8 353.4h0M433.7 345.8h0M438.8 333.6h0M439.5 333.7h0M441.7 331.3h0M442 331.5h0M442.9 348.3h0M444.2 332.1h0M445.9 326.5h0M447.2 337.7h0M447.7 322h0M449.2 321.3h0M448.8 326.1h0M449.6 335.2h0M450.2 324.1h0M449.8 351.5h0M450.4 322.1h0M452 356.9h0M454.7 319.3h0M454.9 322.4h0M458.9 333.3h0M460.4 309.3h0M460.4 346.7h0M460.9 311h0M462.5 331.3h0M464.3 338.1h0M465.6 320.3h0M466.5 319.5h0M467.4 318h0M467 319.2h0M467.8 334.5h0M468.8 320.4h0M470.7 324.2h0M471.2 330.2h0M473.6 354.6h0M474.5 337.3h0M476.9 348h0M478.8 342.1h0M479.7 350.1h0M483.4 341.3h0M484.5 345.8h0M484.1 365.3h0M484.6 343.9h0M488 345.5h0M489 339.8h0M490.2 343.4h0M490.8 341.8h0M492.1 345h0M493 343.9h0M492.9 365.5h0M496.3 347.1h0M497.4 342.9h0M501 346.7h0M502.1 341.2h0M503.2 341.7h0M503.5 347.4h0M505.5 347.8h0M505.6 349.9h0M506.9 343.4h0M509.9 339.8h0M512.9 340.1h0M513.1 351.3h0M513.6 344h0M514.5 343.4h0M516.1 361.7h0M518.8 340.1h0M520.9 356.1h0M523.7 339.3h0M526 332.7h0M527.5 337.3h0M531.9 333h0M532.4 330.7h0M532.8 320.1h0M533.6 319.7h0M535.5 322.2h0M534.9 331h0M534.6 323.4h0M538.2 325.6h0M539.9 330.2h0M541.6 316.9h0M542.3 349.1h0M543.2 329.6h0M545.1 327h0M544.8 317.2h0M544.7 337.3h0M545.7 319.1h0M546.9 327.2h0M546.9 333.8h0M547.1 317.7h0M550.2 327.7h0M549.9 330.3h0M551.5 327.2h0M552.7 330.5h0M552.7 338.1h0M554.8 329.8h0M554.8 346.3h0M555.6 334.3h0M556.6 321.3h0M558.3 320h0M557.5 326.9h0M559.5 342.9h0M561.1 325.2h0M561.9 322.8h0M562.7 320.6h0M565.2 323.4h0M565 350.5h0M568.1 338.5h0M568 337.2h0M571.4 332h0M570.8 332.3h0M572.1 340.5h0M572.3 338h0M572.3 338h0M572.8 342.3h0M573.6 357.1h0M575.9 346.4h0M577.4 346.5h0M577.2 354.8h0M579.9 351.6h0M581.1 349.9h0M580.6 350.1h0M582.3 356.1h0M582.4 350.5h0M582.7 349.4h0M585.3 355.7h0M585.9 378.7h0M588.3 358.9h0M588.9 367.6h0M589.5 351.3h0M591 350.7h0M592.3 353.9h0M592.5 360.6h0M592.7 358.5h0M592.9 352.3h0M594.8 352.9h0M596.1 361.7h0M598 356.5h0M598 352.2h0M601.1 359h0M602 357h0M603.3 353.4h0M603 352.4h0M609.1 356.6h0M610.9 368.6h0M611 366.8h0M615.5 359.8h0M617.5 357.4h0M618.2 374.6h0M618.8 360.2h0M619.5 360.1h0M620 364.5h0M620.7 361.6h0M625.3 359.9h0M626 363.9h0M627.1 357.4h0M629.4 362.1h0M630.6 357.9h0M630.8 363.6h0M636.6 330.7h0M639.1 343.3h0M638.9 328.2h0M641.3 326.1h0M653.1 326.1h0M653 349.1h0M653.9 329.4h0M655.4 329.5h0M654.9 327.3h0M656.3 332.2h0M656.5 360.2h0M658.4 354.6h0M657.7 337.3h0M657.7 331h0M658.2 334.9h0M658.9 325.5h0M659.4 334h0M659.1 325.1h0M659.2 327.5h0M659.2 327.4h0M658.7 334.5h0M660.4 336.4h0M659.6 348.5h0M661.4 348.8h0M664 387.3h0M667.8 424.7h0M669.2 417.9h0M669.2 423.6h0M669.9 431.8h0M671.2 450h0M671.4 419.9h0M673.2 423.6h0M673.2 430.9h0M673.1 418.9h0M673 447.6h0M674.4 430.5h0M675 427.2h0M674.6 419.1h0M675.9 421.4h0M676 427.1h0M677.9 433.9h0M677.6 414.3h0M682.3 410h0M683.7 440.5h0M685.4 403.8h0M684.7 411.3h0M684.6 409.8h0M688.3 395.6h0M688.9 397.2h0M688.7 410.9h0M689 401.7h0M688.6 424.4h0M689.1 394.5h0M690.3 429.5h0M690 409h0M690.7 403.2h0M690.6 390.1h0M693.3 422.5h0M692.7 403h0M692.7 393h0M694 402h0M694.3 398.2h0M694.3 427.8h0M694.7 399.9h0M696.1 399.9h0M695.9 413.7h0M697.4 405.9h0M698 392.5h0M697.6 395.2h0M699.3 407.4h0M700.1 398.7h0M699.9 408h0M701.3 403.2h0M704.3 340.5h0M703.9 356.9h0M706.7 304.8h0M708 296.6h0M707.9 292.1h0M708.8 297.1h0M708.7 286.8h0M711.5 278.4h0M710.8 281h0M710.8 313.8h0M711.7 295.5h0M712.8 305.3h0M713 280.4h0M714.2 325.7h0M714 282.6h0M714.7 300.8h0M716 287h0M716.6 277.9h0M716.9 326.6h0M718.2 280.3h0M718.4 289h0M718.9 324.6h0M719.7 289.7h0M720.1 284.4h0M720.9 279.6h0M722.8 281.9h0M723.5 281.4h0M723.7 288.8h0M724.3 303.3h0M724.6 282.7h0M726 288.5h0M727 282h0M727.2 281.6h0M728.1 290.3h0M729 280.5h0M729.1 278.5h0M730.1 276.8h0M732.1 274.3h0M734.8 277.2h0M737.7 282.9h0M739 278.3h0M740.8 287.8h0M740.9 283.8h0M741.3 283.6h0M741.2 282.4h0M742.3 292.5h0M742 295.2h0M744.3 288.6h0M745.4 289h0M747.3 288.3h0M749.4 325.9h0M748.7 298.2h0M749.4 303.1h0M749.2 288.8h0M754.6 302.7h0M755 308.4h0M757.5 293.7h0M758.5 292.2h0M759.9 292.7h0M763.2 294.1h0M762.8 295.3h0M766.9 294.7h0M768 292.5h0M775.2 292.3h0M777.3 307.5h0M777.6 294.9h0M778.5 309.2h0M782.5 323.1h0M782.1 302.2h0M785.5 302h0M786 307.6h0M787.9 301.3h0M788.5 309h0M788.7 292.7h0M791.3 326.3h0M793.5 296.2h0M795.1 295.6h0M795 304.3h0M794.9 313.3h0M796.4 295.8h0M795.8 295.1h0M796.3 301.7h0M799.3 299.7h0M798.6 316h0M799.3 309.2h0M799.6 305.1h0M802 313.1h0M803.3 334.1h0M802.7 304.9h0M802.7 318.2h0M804.2 340.3h0M804.5 317.3h0M803.7 345.2h0M804.8 328.5h0M805.7 334.1h0M806.7 312.3h0M806.7 297.6h0M807.8 322.2h0M808.3 312.5h0M807.9 298.8h0M809.2 319.8h0M810.6 310.7h0M811.2 298h0M812 308h0M813.1 311.1h0M812.9 318.3h0M813.4 313.7h0M813.9 340.6h0M817.2 293.7h0M818 295.9h0M817.6 292.6h0M819.2 296.6h0M825.8 293.2h0M828.9 295.4h0M829.9 303.3h0M832 300h0M832.9 304.3h0M834.1 300.3h0M836.9 318.6h0M840.5 322.6h0M840.9 307.1h0M840.8 301.9h0M844.7 310.3h0M846.3 315.1h0M850.6 309.8h0M851.7 324.4h0M851.7 316h0M852.2 311.8h0M852.2 308.2h0M853.5 317.3h0M854.4 331.9h0M854.2 327.3h0M854.9 302.9h0M855.1 310.4h0M855.5 321.9h0M855.8 304.2h0M856.9 315.1h0M857.2 303.8h0M856.9 307.9h0M858.1 305.7h0M858.4 314.1h0M858.9 298h0M859 303.9h0M860 361.2h0M861 303.9h0M861 298.4h0M862.2 314h0M862.4 304.9h0M862 359.5h0M862.3 331.7h0M862.9 341.7h0M863.1 295.1h0M863.6 309h0M864.6 311.4h0M866.2 303.1h0M865.8 298.6h0M868 320.9h0M868 347.6h0M867.6 300h0M869 297.1h0M868.9 305.6h0M869.5 296.2h0M872.5 311.7h0M872.2 301.4h0M873.3 300.8h0M872.9 301.1h0M874.2 306.4h0M874 315.7h0M874.2 301.3h0M874.9 322.1h0M875.3 314.9h0M875.5 347.2h0M876.2 305.7h0M876.8 320.7h0M878 315.2h0M877.8 321.2h0M883.9 309.3h0M888.3 310h0M889.2 312.4h0M889.1 306.9h0M890.5 309.2h0M893.1 306.6h0M894.4 310.2h0M897.3 295.5h0M899.3 292.3h0M902.3 294.5h0M908.6 293.5h0M910.7 295.1h0M912.2 296.7h0M912.4 303.5h0M913.4 298.8h0M912.7 296.4h0M915.2 319.1h0M917.8 310.2h0M918.4 316.8h0M921.7 317.1h0M924.3 325.9h0M925.7 325.6h0M927.9 336.7h0M929.1 334.2h0M929.9 331h0M930.7 332.3h0M934.2 336.8h0M933.6 343.4h0M934.3 343h0M934.6 344.6h0M935.2 333.5h0M935.6 330.9h0M937.9 346.6h0M938.6 345.3h0M940.1 330.3h0M941.7 346.6h0M944.5 333h0M943.9 339.6h0M943.9 336.9h0M947 329.9h0M947.4 332.4h0M949.5 373.6h0M948.7 344.8h0M949 329.4h0M950.5 335.7h0M949.6 346.2h0M950.2 338.5h0M951.3 339.2h0M951.9 332.9h0M953.2 334.3h0M955.3 350.9h0M955 336.3h0M958 359.1h0M957.8 353.1h0M959.6 347.4h0M961.1 344h0M961.2 339.3h0M960.6 342.5h0M963 338.4h0M964.2 341.2h0M964.9 340.8h0M965.9 378.4h0M965.8 345h0M965.8 341.9h0M966.1 352.6h0M967.3 376.3h0M967.5 341.4h0M969.4 347.7h0M968.7 363.5h0M968.9 351.4h0M969.9 342.8h0M970 359.3h0M971.2 349.3h0M970.9 362h0M972.4 343.6h0M973.1 337.5h0M972.6 353.5h0M973.9 336h0M975.3 351.8h0M974.6 344.4h0M976.2 348.3h0M976.1 353.9h0M976.4 335.5h0M976.7 369.6h0M977 348.3h0M978.2 403.5h0M978 358.1h0M978.2 341.1h0M978.6 374.2h0M978.7 381.4h0M980.2 334.9h0M980.2 335.7h0M981.7 400h0M982.3 337.6h0M981.9 344.8h0M983.3 362.7h0M982.8 356.2h0M986.6 352.2h0M988 370.5h0M988.3 360.4h0M987.8 355.5h0M987.8 360.1h0M991.6 339.5h0M993.5 343.2h0M992.9 353.4h0M993.2 350.8h0M993.4 393.4h0M993.7 347.9h0M994.8 357.5h0M994.5 342.6h0M996.2 345.3h0M996.5 358h0M995.6 343.1h0M996.6 343.3h0M997 346.9h0M998.1 345.6h0M999.3 383.1h0M1000 344.2h0M999.7 340.8h0M999.5 360.5h0M1000.8 349.1h0M1001.6 355.2h0M1002.2 364h0M1001.6 363.7h0M1002.7 352h0M1004.2 342.1h0M1003.7 339.3h0M1004.4 341.5h0M1005.3 338.6h0M1006.7 345h0M1008.1 360.7h0M1009.3 340.8h0M1009.8 356h0M1011.4 340.6h0M1013.9 351.4h0M1014.5 356h0M1016.9 341.3h0M1019.4 336.4h0M1019 337.5h0M1020.9 330.7h0M1020.5 337.9h0M1020.5 357.5h0M1025.5 311.3h0M1027.3 315.5h0M1027.1 315.4h0M1027 315.5h0M1028.4 324.9h0M1028 319.3h0M1029.2 347.1h0M1029 317h0M1028.8 316.9h0M1030.5 323.7h0M1029.6 320.5h0M1031.2 361.3h0M1031.3 344.5h0M1033.5 330h0M1034.3 326.7h0M1034.8 332.3h0M1035.6 337.2h0M1035.5 332.3h0M1040.2 344.7h0M1040.8 340.2h0M1040.5 331.2h0M1041.9 334.3h0M1043.4 333.2h0M1045 344.1h0M1046.4 353.2h0M1045.8 338.5h0M1046.3 330.3h0M1047.4 335.3h0M1047.1 337.3h0M1048 330.7h0M1047.6 331.7h0M1049.4 330.8h0M1051.2 344.4h0M1055.7 342.6h0M1056.6 347.6h0M1059.2 341.8h0M1063 343.1h0M1063.9 346.6h0M1063.6 347.6h0M1066 347.1h0M1066.8 345.1h0M1068.3 345.4h0M1068.5 349.4h0M1075.4 357.1h0M1076.2 350h0M1078 349.1h0M1077.9 349.2h0M1079.2 352h0M1079.9 344.6h0M1082.6 349.8h0M1083 357.6h0M1085.1 354.4h0M1085.8 343.4h0M1087.2 348.3h0M1086.8 351.2h0M1087.7 350.2h0M1087.7 357.2h0M1088.8 358.6h0M1089.2 348.7h0M1090.1 357.5h0M1090.3 359.6h0M1091.1 368.8h0M1091.1 349.1h0M1091.9 351.3h0M1094.3 357.2h0M1094.7 378.4h0M1095.4 359.5h0M1095.2 388.9h0M1095.4 396.7h0M1096.2 387.7h0M1095.7 358.7h0M1096.8 364.1h0M1098.4 357.2h0M1098.5 389.4h0M1097.6 355.9h0M1098 367.6h0M1097.5 361.1h0M1098.5 376.4h0M1099.3 385.1h0M1099.3 369.7h0M1099.5 375.7h0M1100.2 359.8h0M1100.3 365h0M1100.1 360.4h0M1102.7 367.4h0M1104.4 360.3h0M1103.8 363h0M1103.9 360.6h0M1104.3 406.1h0M1105.5 358.1h0M1104.7 359.6h0M1111.2 380.2h0M1111 354.7h0M1113.3 357.7h0M1113 352.9h0M1112.5 354.4h0M1114.3 355.6h0M1116.5 363.4h0M1117.7 392.1h0M1117.8 353h0M1118.2 367.7h0M1118.9 353.2h0M1119.3 354.1h0M1119.6 365.2h0M1119.9 375.9h0M1120.7 353.5h0M1122.5 355.1h0M1122 349.6h0M1122.9 354.1h0M1123.2 361.6h0M1124.2 356.8h0M1126.1 353.3h0M1127.8 357.3h0M1128.2 359.2h0M1129.1 353.5h0M1129.1 351.5h0M1132.3 377.8h0M1132.1 352.6h0M1133.2 386.9h0M1133.8 358.1h0M1135.9 363.4h0M1136.4 360.8h0M1137.9 358.8h0M1137.9 367.3h0M1139.4 366.4h0M1141.4 366.8h0M1140.6 373.3h0M1142.2 356.6h0M1141.7 360.6h0M1142.4 372.1h0M1142.1 361.2h0M1143.3 352.1h0M1143.2 375.7h0M1143.7 363h0M1145.7 352.8h0M1147.3 390.6h0M1147.5 350.6h0M1148.4 372.4h0M1147.7 369h0M1149 369.3h0M1149.7 379.4h0M1150.5 384.9h0M1151.5 370h0M1152.1 360.7h0M1153.2 354.1h0M1154.2 370.9h0M1154 352h0M1157.3 384.2h0M1159.3 353.8h0M1159.5 357.2h0M1160 354.8h0M1160.5 365.2h0M1161.7 363.4h0M1161.9 350.7h0M1163.1 349.7h0M1163.8 374.8h0M1163.7 364.3h0M1164.1 358.3h0M1166.2 355.3h0M1170.2 357.2h0M1172.9 353.2h0M1173.1 351.8h0M1175.1 361.5h0M1176.3 369.9h0M1176 358.1h0M1175.9 364.3h0M1177.4 370.5h0M1177.5 366.2h0M1179.1 363.6h0M1180.3 360.2h0M1181.5 357.6h0M1180.6 356h0M1181.3 355h0M1181.6 362.3h0M1184.7 363.7h0M1185.4 378.4h0M1185.9 396.5h0M1186.6 360.3h0M1186.7 394.9h0M1188 389.3h0M1188.8 366.2h0M1189.4 369h0M1189.7 363.1h0M1189.5 373.6h0M1190 361.9h0M1190 377.6h0M1191 367.2h0M1191.7 366.7h0M1193.8 369.3h0M1197.2 363.5h0M1199.3 370.8h0M1199.2 368.2h0M1199.2 366.5h0M1199.9 380.1h0M1200.3 389.3h0M1199.5 373.4h0M1199.8 382.7h0M1200.2 410.4h0M1199.7 398.8h0M1200.7 373.6h0M1201.9 390.7h0M1204.1 385.4h0M1204.2 383.8h0M1204.7 378.4h0M1207.4 370.7h0M1207.8 368.2h0M1208 373.3h0M1209.2 380.9h0M1209.1 372.4h0M1210.1 366.5h0M1211.3 365.8h0M1211.3 363.5h0M1211.6 376.3h0M1212.5 369.6h0M1214.7 363.1h0M1215.1 371.1h0M1216.2 376.8h0M1217.6 373.2h0M1217.8 372.3h0M1217.7 398.4h0M1222.7 365.3h0M1224.7 366h0M1226.2 366.8h0M1226.6 375.9h0M1226.5 367.4h0M1230.6 374.3h0M1231.8 389.6h0M1233.1 371.8h0M1233.8 375.2h0M1235.1 383h0M1234.6 378.4h0M1235.4 376.9h0M1235.6 390.2h0M1237 374.2h0M1239 368.3h0M1239.8 405.4h0M1241.5 377.2h0M1243.5 362.5h0M1244.9 381.3h0M1245.4 376.4h0M1246.5 359.9h0M1246.6 368.1h0M1248.5 380.1h0M1248.4 364.8h0M1249.4 361.4h0M1252.2 383.1h0M1252.5 363.9h0M1252.7 361.2h0M1252.7 371.2h0M1252.9 358.4h0M1254.4 373h0M1255.2 371.8h0M1255.9 389h0M1258.1 363.1h0M1262 363.1h0M1263.1 365.5h0M1262.8 369.8h0M1263.2 363.5h0M1262.7 365.6h0M1265.8 374.2h0M1268 365.5h0M1269.3 365.2h0M1268.7 390.8h0M1270.5 388.8h0M1270.3 370.5h0M1271.9 378.4h0M1274.3 364.5h0M1275.1 364.6h0M1275.5 383.6h0M1277.9 366.2h0M1278 365.6h0M1280.4 373.6h0M1282.4 394.9h0M1282.7 367.1h0M1282.8 403.4h0M1283.6 396.4h0M1283.9 363.7h0M1285 363.1h0M1285.8 381.3h0M1287.1 358.8h0M1286.8 359.6h0M1287.4 364.2h0M1287.7 379.6h0M1288.1 363.1h0M1288 369.6h0M1289 360.6h0M1288.8 381.5h0M1290 356.8h0M1289.5 378.8h0M1291.4 369h0M1291.3 372.9h0M1293.9 358.9h0M1293.7 351h0M1295.9 349.5h0M1296.9 350.8h0M1297.9 367.3h0M1299.3 395.7h0M1300.1 357.9h0M1300.3 379.8h0M1300.9 347.4h0M1302.4 350.8h0M1302.8 410.1h0M1303 374.7h0M1303.2 408.2h0M1303.5 360.5h0M1303.7 375.1h0M1304.3 355.5h0M1304.5 370h0M1305 346.7h0M1305.2 373.1h0M1305.4 350.9h0M1305.9 370h0M1305.8 346.5h0M1307.1 356.6h0M1309.5 355h0M1309.9 362.3h0M1309.6 391.7h0M1310.3 355h0M1311 354.9h0M1312.3 366.3h0M1312.6 377.9h0M1313.1 379.4h0M1313.8 360.4h0M1317.5 376.3h0M1317.8 378.5h0M1317.6 370.9h0M1318.5 375.8h0M1318.3 358.2h0M1319 351.2h0M1318.8 352.8h0M1319.2 362.5h0M1319.6 389h0M1322.3 347.6h0M1325.1 357.3h0M1326.9 357.6h0M1327.6 349.3h0M1328.3 388.4h0M1328.2 350.7h0M1328.9 345.4h0M1328.6 375.6h0M1329.4 380.9h0M1329.7 344.1h0M1329.8 351.9h0M1331.3 386.4h0M1330.8 353h0M1332.4 352h0M1332.3 351.4h0M1333.1 355.9h0M1332.7 345.6h0M1334.1 355h0M1335.5 374.3h0M1335.2 345.9h0M1334.9 359h0M1337.4 346.8h0M1336.6 349.1h0M1336.9 347.4h0M1339.1 356.5h0M1340.8 367.4h0M1341.2 349.6h0M1341.3 352.4h0M1343.5 355.3h0M1344.2 352.8h0M1344.1 352.3h0M1345.9 361.8h0M1347.4 380.3h0M1346.9 354.6h0M1346.9 370.7h0M1348 358.1h0M1349.4 356.1h0M1349.5 366.8h0M1352.5 362.9h0M1354 354.3h0M1354.6 352.7h0M1356.1 369.3h0M1356.8 353.3h0M1358.2 362.6h0M1359.2 395.8h0M1358.9 353.3h0M1359.7 381.6h0M1360.9 385.5h0M1360.5 394.7h0M1362.4 370.5h0M1361.6 373.2h0M1363.2 358h0M1364.1 371.8h0M1364.7 366.5h0M1369.4 352.3h0M1369.5 362.3h0M1370.2 365.2h0M1370.7 360.8h0M1370.7 349.8h0M1373.4 395.3h0M1373.5 357.8h0M1373.6 387.3h0M1374 377.1h0M1374.2 368.1h0M1376.3 354.6h0M1377 355.5h0M1376.7 349.8h0M1378.3 355.2h0M1379.7 362h0M1381.5 347.4h0M1382.3 355.4h0M1383.4 364.9h0M1385 379.8h0M1386 390.2h0M1386.4 350.5h0M1387.1 359.3h0M1387.1 351.7h0M1387 348.7h0M1389.1 359.2h0M1390.9 365.3h0M1392 373.2h0M1392.4 353.4h0M1393 356.4h0M1392.7 360.1h0M1394.7 363.2h0M1395.1 351.9h0M1395.9 398.1h0M1396.7 357.4h0M1396.9 355.9h0M1397.6 355.4h0M1397.6 375.5h0M1400 380.5h0M1399.5 355h0M1403.4 358.3h0M1403.1 360.3h0M1404.1 373.2h0M1404.3 361h0M1404.8 353.8h0M1405.2 360.6h0M1405.8 356.7h0M1407.2 354.1h0M1406.7 352.4h0M1408.4 379h0M1408.2 359.1h0M1408.6 365.3h0M1409.9 388.1h0M1410.7 351.8h0M1410.6 371.4h0M1412.6 358.3h0M1414 354.7h0M1416.7 354.5h0M1418.5 350.1h0M1418.5 350.7h0M1418.4 355.3h0M1418 351.5h0M1420.2 361.2h0M1420 360h0M1420.2 351.2h0M1421.4 398.2h0M1421.5 349.2h0M1421.5 352.1h0M1423 350.8h0M1423.7 350.6h0M1425 352.5h0M1425.2 365.7h0M1425.7 349.4h0M1426.2 349.1h0M1426.4 357.2h0M1426.2 350.8h0M1427.1 378.5h0M1427.3 353.9h0M1426.9 357.7h0M1427.7 380h0M1427.7 352.6h0M1427.6 379.5h0M1429.7 359.7h0M1433.4 386.6h0M1432.9 353.5h0M1433.6 367.2h0M1434.5 364.6h0M1434.4 345h0M1434.9 348.4h0M1437.5 352.2h0M1437.9 362h0M1438.7 367.6h0M1440.2 343.9h0M1440.2 347.1h0M1442.1 353.7h0M1441.7 351.9h0M1442.1 349.2h0M1442.3 343.8h0M1443.2 368.2h0M1447 385.1h0M1448.2 355.6h0M1449.9 382.9h0M1452 355.6h0M1452.8 385.9h0M1456.2 349.5h0M1456.7 348.3h0M1457.1 351.4h0M1458.1 385.9h0M1458.4 347.2h0M1459.6 351.6h0M1460.6 370.9h0M1461.1 385.9h0M1463.3 352h0M1463.5 365h0M1463.7 349.5h0M1464.3 346.2h0M1466.8 350.1h0M1467.6 347h0M1467.8 365.4h0M1470.4 370.9h0M1470.9 350.1h0" stroke="#1f77b4" stroke-width="5.6" stroke-linecap="round" fill="none"/><path d="M116 340.2 116 344.8 118.5 335.4 118.9 334.4 121 340.4 121.8 343.1 123.5 340.9 124.7 337.3 126 336.7 127.6 340.2 128.5 345.8 130.5 360.5 131 357.1 133.4 340.2 133.5 334.9 136 332.6 136.3 330.1 138.5 329.4 139.2 325.7 141 317.3 142.1 314.1 143.5 326.9 145 343.1 146 338.6 147.9 325.7 148.5 322.5 150.8 311.2 151 309.8 153.5 300.1 153.7 304 156 307.7 156.6 308.3 158.5 305.4 159.5 302.5 161 296 162.4 288 163.5 280.6 165.3 279.3 166 280.7 166.8 274.9 168.5 284.5 169.7 288 171 288.3 172.6 290.9 173.5 301.9 175.5 308.3 176 311 178.4 314.1 178.5 310.3 181 322.1 181.3 325.7 183.5 325.4 184.2 334.4 186 319.2 187.1 308.3 188.5 312.2 190 317 191 310.5 192.9 305.4 193.5 308.5 195.8 308.3 196 305.7 198.5 324.6 198.7 325.7 201 295 201.6 293.8 203.5 299.6 204.5 308.3 206 309.2 208.5 324.8 208.9 322.8 211 334.5 211.8 330.1 213.5 331.2 216 333.6 216.1 331.5 218.5 303.1 219 296.7 221 295.5 223.4 290.9 223.5 289.3 226 287.1 227.7 293.8 228.5 278.6 230.6 261.9 231 260.4 233.5 261 235 250.3 236 267.3 237.9 290.9 238.5 286.5 240.8 276.4 241 279.9 243.5 259.7 243.7 256.1 246 272.8 246.6 276.4 248.5 267.6 249.5 261.9 251 270.8 252.4 279.3 253.5 272.7 255.3 264.8 256 260.4 258.2 264.8 258.5 266.5 261 279 261.1 279.3 263.5 294.7 264 293.8 266 299.8 266.9 302.5 268.5 298.3 269.8 305.4 271 304.7 272.7 308.3 273.5 311.5 275.6 302.5 276 301.3 278.5 288 278.5 290.9 281 299.2 281.4 305.4 283.5 307.6 284.3 314.1 286 305.6 287.2 302.5 288.5 296.3 290.1 296.7 291 297.1 293.5 285.9 294.5 282.2 296 286.9 297.4 290.9 298.5 298.2 301 306.2 301.7 302.5 303.5 299.6 304.6 296.7 306 304.4 307.5 311.2 308.5 311.7 310.4 305.4 311 306.6 313.3 311.2 313.5 306.3 316 316.9 316.2 317 318.5 308.8 319.1 302.5 321 313.8 322 317 323.5 319.1 324.9 325.7 326 322.2 327.8 319.9 328.5 321.3 330.7 334.4 331 331.5 333.5 321.4 333.6 317 336 332 336.5 328.6 338.5 326.2 340 318.5 341 317.2 342.9 308.3 343.5 311.3 345.8 311.2 346 311.4 348.5 305.6 348.7 305.4 351 291.9 351.6 290.9 353.1 282.2 353.5 283.7 356 296.7 356 303.3 358.5 309.6 360.3 311.2 361 312.8 363.5 318.1 364.7 322.8 366 316.4 368.5 312.9 369 311.2 371 316.6 371.9 317 373.5 306.9 376 300.9 376.3 299.6 378.5 311.7 380.6 325.7 381 329.8 383.5 331.2 385 331.5 386 338.7 387.9 337.3 388.5 335 391 323.6 392.2 319.9 393.5 316.7 395.1 311.2 396 318.8 398 325.7 398.5 325.5 400.9 308.3 401 305.2 403.5 306.1 405.3 305.4 406 302.8 408.2 293.8 408.5 294 411 304.7 412.5 314.1 413.5 316.7 415.4 308.3 416 310.5 418.5 315.7 419.8 322.8 421 322.3 423.5 318.8 424.2 317 426 305.8 427.1 299.6 428.5 306.6 431 314.8 431.4 314.1 433.5 308.6 435.8 299.6 436 302.5 438.5 299.4 440.1 296.7 441 294 443.5 290.6 444.5 290.9 446 286.8 448.5 285 450.3 282.2 451 277.8 453.5 269.5 454.6 273.5 456 271.2 458.5 267.1 459 270.6 461 261.8 461.9 267.7 463.5 270.3 464.8 273.5 466 268.1 467.7 264.8 468.5 264.5 471 259.3 472 259 473.5 265 476 280.8 476.4 288 478.5 288.2 480.7 293.8 481 291.9 483.5 283.8 485.1 282.2 486 281.9 488.5 282.1 489.4 288 491 286.7 493.5 282.8 493.8 288 496 281.5 498.5 280.4 499.6 276.4 501 282.2 503.5 288.1 505.4 285.1 506 281.2 508.5 281.3 511 280.8 511.2 276.4 513.5 284.8 515.6 285.1 516 284.1 518.5 291.3 519.9 293.8 521 301.7 523.5 298.3 525.7 305.4 526 305.6 528.5 310.4 528.6 306.9 531 281.3 533 261.9 533.5 262.6 536 257.3 537.3 259 538.5 256.3 541 257.8 543.1 261.9 543.5 262 546 263.7 547.5 264.8 548.5 266.1 551 258.2 551.8 259 553.5 261.1 556 270 556.2 267.7 558.5 267.1 560.5 261.9 561 259.2 563.5 266.8 564 266.7 566 261.2 566.9 259.9 568.5 265.4 569.8 268.6 571 260.3 572.7 245.4 573.5 251.8 576 257.8 577.1 259.9 578.5 262.4 581 275.4 581.4 283.1 583.5 298 585.8 312.2 586 313 588.5 326.2 588.7 323.8 591 319.3 593 312.2 593.5 308.8 596 305.7 598.5 294.3 598.8 294.7 601 279.4 603.5 280.2 604.6 271.5 606 261.4 608.5 253.6 609 251.2 611 254.5 611.9 251.2 613.5 264.3 616 276.7 616.2 283.1 618.5 287.6 620.6 288.9 621 287.3 623.5 295.5 624.9 306.3 626 308.4 628.5 322.6 629.3 323.8 631 318.5 633.5 309.5 633.6 306.3 636 298.7 638.5 290.9 639.4 288.9 641 285.5 643.5 287 643.8 288.9 646 299.2 646.7 300.5 648.5 293 649.6 288.9 651 289.1 653.5 285.1 654 286 656 282.5 658.3 283.1 658.5 283.2 661 289.8 662.7 294.7 663.5 303 666 322.4 667 329.6 668.5 354 669.9 367.3 671 368.2 672.8 367.3 673.5 362.4 675.7 349.9 676 345.2 678.5 334.2 680.1 326.7 681 325.9 683 318 683.5 314.3 685.9 306.3 686 306 688.5 318.9 688.8 318 691 316.7 693.1 315.1 693.5 315.3 696 331.7 696 329.6 698.5 314.3 700.4 300.5 701 299.3 703.5 291.8 704.7 283.1 706 264 708.5 213 709.1 201.9 711 207.7 712 213.5 713.5 222.9 714.9 230.9 716 220.9 717.8 204.8 718.5 204.8 721 232.4 722.2 239.6 723.5 230.9 726 213.5 726.5 207.7 728.5 216.9 729.4 225.1 731 219.8 732.3 210.6 733.5 204.7 735.2 197.5 736 200.6 738.5 209.8 739.6 219.3 741 216.6 743.5 215.9 743.9 216.4 746 236.5 748.3 259.9 748.5 261.2 751 262.3 752.6 262.8 753.5 263.9 756 255.6 757 254.1 758.5 255.9 761 266.6 761.3 268.6 763.5 261.7 765.7 251.2 766 253.4 768.5 237.7 770 225.1 771 216.9 772.9 213.5 773.5 217.5 775.8 236.7 776 241.6 778.5 243.5 780.2 245.4 781 240.7 783.5 232.6 784.5 228 786 237.9 788 254.4 788.5 253.9 790.9 243.1 791 243.3 793.5 236.7 793.8 231.5 796 251.7 796.7 254.7 798.5 247.7 799.6 246 801 251.8 803.5 262.2 804 260.5 806 245.4 806.9 240.2 808.5 245.1 809.8 251.8 811 248.5 812.7 260.5 813.5 254.5 815.6 237.3 816 237.3 818.5 243.1 818.5 236.5 821 233.7 821.4 240.2 823.5 248.7 824.3 254.7 826 251 828.5 241.1 828.6 240.2 831 239.1 831.5 237.3 833.5 242.4 834.4 248.9 836 208.8 837.3 183.6 838.5 215 839.7 243.1 841 226.1 841.7 214.1 843.5 232.6 844.6 243.1 846 245.4 847.5 240.2 848.5 246.7 850.4 263.4 851 260.6 853.5 261.9 854.7 257.6 856 263 858.5 256.8 859.1 254.7 861 252 862 243.1 863.5 232.8 866 216.9 866.4 214.1 868.5 218.2 869.3 219.9 871 204.3 871.6 205.4 873.5 225.6 875.1 243.1 876 249.8 878 254.7 878.5 261.6 880.9 289.6 881 287 883.5 251.3 883.8 243.1 886 229.6 886.7 228.6 888.5 239.7 889.6 254.7 891 243 892.5 237.3 893.5 235.4 895.4 243.1 896 243.5 898.3 231.5 898.5 233.1 901 223.8 901.2 225.7 903.5 218.6 904.1 219.9 906 221.9 907 211.2 908.5 222.6 909.9 231.5 911 233.3 912.8 243.1 913.5 249.1 915.7 266.3 916 267.2 918.5 256.3 920 248.9 921 249.7 923.5 256.4 924.4 263.4 926 262 928.5 258.3 928.7 257.6 931 261.9 933.1 275.1 933.5 278.2 936 287 938.5 291.2 938.9 292.5 941 271.9 943.3 251.8 943.5 253.3 946 261 947.6 269.3 948.5 266.6 950.5 275.1 951 275.5 953.5 275.2 954.9 280.9 956 278.5 958.5 269.8 959.2 272.2 961 279.6 962.1 286.7 963.5 277.9 965 269.3 966 275.6 968.5 272.4 969.4 275.1 971 269 973.5 269.2 973.7 272.2 976 274.4 978.1 283.8 978.5 279.7 981 274.7 982.4 269.3 983.5 274.7 986 284.2 986.8 280.9 988.5 276.7 991 279.4 991.1 272.2 993.5 281.7 995.5 275.1 996 275.5 998.5 264.3 999.8 269.3 1001 268.6 1003.5 274.3 1004.2 275.1 1006 269.7 1008.5 276.1 1008.5 278 1011 282 1012 284.4 1013.5 264 1014.3 256.8 1016 276.5 1016.6 282.1 1018.5 283 1020.1 277.5 1021 262 1022.4 240.6 1023.5 238.6 1024.7 236 1026 218.2 1026.3 216.4 1028.5 254.5 1028.6 259.1 1030.4 247.5 1031 252.7 1033.5 279.7 1033.9 282.1 1036 279.5 1037.4 279.8 1038.5 269.5 1039.7 272.9 1041 280.7 1042 286.7 1043.5 279.5 1045.4 279.8 1046 274.7 1047.7 263.7 1048.5 258 1050 231.4 1051 249.4 1052.3 270.6 1053.5 261.7 1055.8 254.5 1056 250.5 1058.1 268.3 1058.5 272.8 1060.4 282.1 1061 280.1 1062.7 270.6 1063.5 271.6 1066 271.5 1066.2 268.3 1068.5 282.1 1068.5 282.8 1071 284.6 1071.9 286.7 1073.5 285.8 1075.4 291.3 1076 276.6 1077.7 272.9 1078.5 273.2 1080 293.6 1081 286 1082.3 279.8 1083.5 280 1085.7 282.1 1086 283.3 1088.5 283.9 1089.2 284.4 1091 282.4 1092.7 279.8 1093.5 285.6 1096 291.3 1096.1 293.6 1098.5 288.9 1099.6 289 1101 291.2 1101.9 300.5 1103.5 289 1104.2 282.1 1106 290.3 1106.5 291.3 1108.5 286.1 1109.9 279.8 1111 288.2 1113.4 291.3 1113.5 295.4 1116 281.7 1116.9 277.5 1118.5 285.2 1120.3 289 1121 282.2 1122.6 277.5 1123.5 281 1126 291.8 1126.1 291.3 1128.5 278.7 1129.5 279.8 1131 276.4 1131.8 270.6 1133.5 281.3 1134.1 286.7 1136 284.4 1137.6 279.8 1138.5 278.6 1141 280 1141.1 277.5 1143.5 290.3 1144.5 289 1146 280.9 1148 272.9 1148.5 269.2 1151 279.3 1151.4 282.1 1153.5 283.1 1154.9 279.8 1156 283.2 1158.3 291.3 1158.5 288.2 1161 274.5 1161.8 268.3 1163.5 268.7 1165.3 284.4 1166 280.6 1168.5 282 1168.7 286.7 1171 288.7 1173.3 291.3 1173.5 289.2 1176 283.9 1176.8 286.7 1178.5 285.9 1180.2 289 1181 286 1183.5 294.2 1184.9 298.2 1186 290.9 1188.3 282.1 1188.5 280.4 1191 279.7 1191.8 282.1 1193.5 289.3 1194.1 289 1196 299.2 1196.4 300.5 1198.5 292 1199.8 284.4 1201 290.1 1203.3 295.9 1203.5 292.9 1206 282.4 1206.7 277.5 1208.5 286 1210.2 291.3 1211 289.9 1213.5 279.5 1213.7 279.8 1216 282.9 1217.1 286.7 1218.5 296 1220.6 305.2 1221 311 1223.5 296.8 1224 295.9 1226 294.1 1227.5 291.3 1228.5 289.4 1230.9 286.7 1231 289.3 1233.2 314.4 1233.5 314.4 1236 297.1 1236 293.6 1238.5 284.8 1239.5 291.3 1241 297.8 1242.5 312 1243.5 298.8 1246 277.5 1246.4 275.2 1248.5 302.8 1248.7 307.4 1251 289 1251 286.5 1253.5 293.8 1254.4 293.6 1256 296.5 1257.9 286.7 1258.5 280.6 1261 285.4 1261.3 289 1263.5 289.6 1264.8 289 1266 286.1 1268.3 279.8 1268.5 281.2 1270.6 302.8 1271 297.1 1273.5 289.1 1274 291.3 1276 296.5 1277.5 298.2 1278.5 300.6 1280.9 293.6 1281 295.1 1283.2 305.1 1283.5 301.4 1286 289.9 1286.7 286.7 1288.5 284.3 1289 284.4 1291 317.8 1291.3 321.2 1293.5 303 1294.8 291.3 1296 289.6 1298.2 291.3 1298.5 290.6 1301 281.5 1301.7 283.2 1303.5 293.7 1305.1 300.5 1306 297.6 1307.4 282.1 1308.5 287.2 1309.7 298.2 1311 294.2 1313.2 286.7 1313.5 286.1 1316 305.8 1316.6 307.4 1318.5 307.2 1320.1 300.5 1321 307.8 1322.4 318.9 1323.5 315 1324.7 305.1 1326 303.9 1328.2 302.8 1328.5 300.4 1331 298.7 1331.6 300.5 1333.5 292.1 1335.1 286.7 1336 285.6 1337.4 286.7 1338.5 292.8 1340.8 305.1 1341 302.8 1343.5 296.1 1344.3 291.3 1346 298.3 1347.8 298.2 1348.5 293.9 1350.1 286.7 1351 294.4 1352.4 316.6 1353.5 309.1 1355.8 291.3 1356 295.4 1358.5 295.4 1359.3 295.9 1361 294.4 1362.7 300.5 1363.5 299.6 1366 303 1366.2 298.2 1368.5 297.2 1369.6 302.8 1371 298.9 1373.1 293.6 1373.5 292.8 1376 288.9 1376.6 291.3 1378.5 289.4 1380 286.7 1381 287.3 1383.5 300.5 1383.5 300.1 1386 296.1 1386.9 289 1388.5 298 1390.4 305.1 1391 301.9 1393.5 295.1 1393.8 300.5 1396 298.2 1397.3 305.1 1398.5 308.4 1400.7 332.8 1401 334.1 1403.5 315.1 1404.2 309.7 1406 300.5 1407.7 298.2 1408.5 294.1 1411 296.2 1411.1 300.5 1413.5 297 1414.6 298.2 1416 291.4 1418 291.3 1418.5 295 1421 290.6 1421.5 291.3 1423.5 292.4 1424.9 298.2 1426 296.3 1428.4 291.3 1428.5 295.6 1431 292.9 1431.9 286.7 1433.5 291.9 1435.3 298.2 1436 299.9 1438.5 305.2 1438.8 305.1 1441 309.8 1442.2 309.7 1443.5 311.8 1445.7 312 1446 309.1 1448.5 303.8 1449.1 307.4 1451 310.6 1452.6 314.3 1453.5 309.2 1456 310.4 1456 307.4 1458.5 315.3 1459.5 316.6 1461 310 1463.5 304.8 1464.1 305.1" stroke="#ff7f0e" stroke-width="2.5" fill="none" stroke-linejoin="round"/></g>
<rect x="116.5" y="38.5" width="1346.0" height="480.0" fill="none" stroke="#000" stroke-width="1.11"/>
<path d="M116.50 518.5v5.4M284.75 518.5v5.4M453.00 518.5v5.4M621.25 518.5v5.4M789.50 518.5v5.4M957.75 518.5v5.4M1126.00 518.5v5.4M1294.25 518.5v5.4M116.5 489.40h-5.4M116.5 421.07h-5.4M116.5 352.73h-5.4M116.5 284.40h-5.4M116.5 216.06h-5.4M116.5 147.73h-5.4M116.5 79.39h-5.4" stroke="#000" stroke-width="1.11" fill="none"/></g>
<g id="p2"><rect x="156.5" y="575.5" width="546" height="479.0" fill="#e8e8e8"/><path d="M156.9 575.5V1054.5M702.1 575.5V1054.5" stroke="#dfdfdf" stroke-width="1"/>
<path d="M116.50 575.5V1054.5M284.75 575.5V1054.5M453.00 575.5V1054.5M621.25 575.5V1054.5M789.50 575.5V1054.5M957.75 575.5V1054.5M1126.00 575.5V1054.5M1294.25 575.5V1054.5M116.5 1034.30H1462.5M116.5 948.36H1462.5M116.5 862.42H1462.5M116.5 776.48H1462.5M116.5 690.54H1462.5M116.5 604.60H1462.5" stroke="#b0b0b0" stroke-width="1.11" stroke-dasharray="1.11 1.83" fill="none"/>
<g clip-path="url(#c2)"><path d="M116.5 918.3 121.3 943.4 126.3 928.4 131.3 918.3 136.3 943.4 141.3 973.5 146.3 960.9 151.3 923.3 156.4 955.9 162.6 953.4 170.1 955.9 175.1 930.9 178.9 910.8 185.2 933.4 191.4 943.4 197.7 938.4 200 928.6 205 923.5 210 893.4 215.1 908.5 220.1 913.5 225.1 898.5 232.6 898.5 240.1 893.4 247.7 898.5 253.9 875.9 260.2 903.5 267.7 908.5 275.3 903.5 282.8 918.5 286.6 943.6 290.3 913.5 295.3 908.5 300.4 903.5 305.4 908.5 310.4 888.4 315.4 898.5 320.4 903.5 325.4 898.5 333 903.5 340.5 898.5 348 908.5 355.5 928.6 360.6 938.6 365.6 918.5 370.6 893.4 375.6 863.3 380.6 893.4 385.6 948.6 390.7 958.7 395.7 943.6 400.7 928.6 405.7 953.6 410.7 963.7 420 973.9 426 967.9 435.1 961.9 444.2 964.9 453.2 961.9 462.3 964.9 471.4 964.9 480.4 967.9 489.5 964.9 495.6 949.8 501.6 931.6 506.1 877.2 510.7 889.3 516.7 907.5 521.2 865.1 525.8 828.9 531.8 822.8 537.9 834.9 543.9 822.8 548.4 853.1 553 828.9 559 816.8 565.1 807.7 569.6 828.9 574.1 859.1 578.7 877.2 583.2 889.3 587.7 871.2 592.3 892.3 596.8 877.2 601.3 865.1 605.9 889.3 610.4 877.2 614.9 865.1 619.5 883.3 624 871.2 628.5 859.1 634.6 877.2 646.3 820.3 654.5 795.8 660.6 861.2 664.7 963.4 668.8 1008.4 679 1014.5 695.4 1020.6 703.5 1016.5 707.6 930.7 713.8 885.7 719.9 1008.4 728.1 1012.4 734.2 861.2 740.3 922.5 744.4 967.5 752.6 983.8 760.8 975.7 768.9 967.5 777.1 987.9 785.3 992 793.5 983.8 801.7 996.1 809.8 987.9 818 967.5 826.2 955.2 834.4 987.9 842.5 992 850.7 996.1 858.9 992 867.1 992 875.2 979.7 883.4 963.4 891.6 996.1 899.8 992 907.9 983.8 916.1 979.7 924.3 971.6 932.5 1000.2 940.7 1004.3 948.8 1016.5 961.3 1005.8 965.6 1003.6 970 1008 974.3 1005.8 978.6 1012.3 983 1008 987.3 990.6 991.6 1003.6 996 1008 1000.3 1005.8 1004.6 1012.3 1007.9 997.1 1012 1010.2 1018.1 1011 1025.7 1008.7 1031.8 1012.5 1039.4 1014 1045.5 1004.9 1049.3 998.8 1053.1 1011 1057.7 1009.4 1066.8 1014 1072.9 1017 1080.5 1015.5 1088.1 1020.1 1095.8 1015.5 1106.4 1015.5 1118.6 1017 1130.8 1015.5 1141.4 1020.1 1147.5 1012.5 1156.7 1012.5 1164.3 1017.8 1171.9 1017 1179.5 1018.6 1184.1 1005.6 1191.7 1015.5 1197.8 1020.1 1208.4 1017 1217.6 1015.5 1225.2 1020.1 1231.3 1015.5 1236 1011.7 1245.6 1012.6 1252 1017.4 1260 1017.4 1267.9 1015.8 1275.9 1014.2 1283.1 1007.8 1287.1 1019 1296.7 1019 1304.7 1012.6 1312.7 1019 1319.1 1003 1325.5 999.8 1334.2 985.4 1339.8 995 1346.2 1014.2 1351 996.6 1355 991.8 1359 1007.8 1371.8 1009.4 1376.6 1004.6 1383 1001.4 1394.1 999.8 1403.7 993.4 1411.7 988.6 1419.7 975.8 1426.1 987 1435.7 983.8 1442.1 982.2 1445.3 955.1 1448.5 935.9 1453.3 951.9 1457.2 935.9 1462.5 947.1 1462.5 1017.4 1458 1020.6 1451.7 1017.4 1443.7 1023.8 1435.7 1028.6 1427.7 1027 1411.7 1028.6 1395.7 1030.2 1379.8 1031.8 1363.8 1031.8 1347.8 1031.8 1331.8 1031.8 1315.9 1032.6 1299.9 1033.4 1283.9 1033.4 1267.9 1034.2 1252 1034.2 1236 1033.6 1210 1033.8 1187.1 1032.3 1171.9 1033.8 1149 1033.8 1126.2 1034.6 1103.4 1033.8 1080.5 1033.8 1057.7 1033.8 1050.1 1032.3 1039.4 1033.8 1024.2 1030.8 1012 1032 1000.3 1031.8 991.6 1031.8 983 1031.8 974.3 1031.8 965.6 1031.8 948.8 1028.8 907.9 1020.6 891.6 1024.7 867.1 1020.6 826.2 1024.7 785.3 1024.7 752.6 1020.6 736.2 1020.6 719.9 1024.7 703.5 1024.7 695.4 1028.8 679 1026.8 662.6 1020.6 642.2 1008.4 631.5 1014.3 619.5 1017.3 607.4 1011.3 595.3 1011.3 583.2 1011.3 574.1 1011.3 565.1 990.1 553 999.2 540.9 996.2 528.8 999.2 516.7 1002.2 504.6 1005.2 497.1 1020.3 480.4 1017.3 465.3 1014.3 453.2 1020.3 444.2 1014.3 432.1 1017.3 420 1014.3 400.7 1013.4 385.6 1010.9 375.6 1010.9 365.6 1008.4 353 1013.4 343 1008.4 330.5 1008.4 317.9 1010.9 305.4 1008.4 295.3 1008.4 285.3 1018.4 275.3 1008.4 262.7 1008.4 250.2 1000.8 237.6 1003.4 225.1 1005.9 210 1008.4 200 1010.9 192.7 1008.1 185.2 1010.6 177.7 1010.6 170.1 1013.1 160.1 1013.1 153.8 1020.6 145.1 1015.6 138.8 1020.6 133.8 1010.6 127.5 1013.1 121.3 1013.1 116.5 1010.6Z" fill="#1f77b4" stroke="#1f77b4" stroke-width="5" stroke-linejoin="round"/>
<path d="M653.7 801.2V734.4" stroke="#1f77b4" stroke-width="5.6" stroke-linecap="round" fill="none"/>
<path d="M712.5 897.9V838" stroke="#1f77b4" stroke-width="10" stroke-linecap="round" fill="none"/>
<path d="M735.5 877.2V712" stroke="#1f77b4" stroke-width="5.8" stroke-linecap="round" fill="none"/>
<path d="M736 882.2V822" stroke="#1f77b4" stroke-width="11" stroke-linecap="round" fill="none"/>
<path d="M768 971.4V935" stroke="#1f77b4" stroke-width="6" stroke-linecap="round" fill="none"/>
<path d="M820 967.5V902" stroke="#1f77b4" stroke-width="7" stroke-linecap="round" fill="none"/>
<path d="M826 958.5V902" stroke="#1f77b4" stroke-width="7" stroke-linecap="round" fill="none"/>
<path d="M885 972.7V925" stroke="#1f77b4" stroke-width="6" stroke-linecap="round" fill="none"/>
<path d="M855 997V950" stroke="#1f77b4" stroke-width="6" stroke-linecap="round" fill="none"/>
<path d="M910 985.8V932" stroke="#1f77b4" stroke-width="6" stroke-linecap="round" fill="none"/>
<path d="M923 975.9V935" stroke="#1f77b4" stroke-width="6" stroke-linecap="round" fill="none"/>
<path d="M943 1010.8V965" stroke="#1f77b4" stroke-width="6" stroke-linecap="round" fill="none"/>
<path d="M118.6 928.3V928.1M124.2 934.4V931.5M130.2 920.4V920.4M135.9 943.2V941.5M139.6 961.1V953.4M146.5 961.1V946.8M163 953.6V946.1M172.7 945.3V935.8M173.5 940.3V919.8M173.8 935.3V917.5M178.6 914.2V906.1M181.9 922.9V920.1M182.8 926.5V914.7M184.6 930.1V928.8M186.9 936.7V927.6M189.8 941.5V940.5M201.6 927.3V923.1M204 924.3V894.5M205.9 916.1V900.3M207.4 910.1V909M221.2 909.9V909.8M223 903.9V901.9M227.7 898.5V874.8M231.3 898.5V892.4M239.9 893.5V883.4M243.2 895.5V889.6M243.8 896.2V886.9M246 897.5V882.6M250.8 885.5V884.2M255.5 881.7V855.4M276.8 905.5V903.7M277.7 907.5V907.3M279 911.5V909.8M283.7 921.7V915.4M284.5 928.4V921.4M290.8 912.6V908.7M293.2 910.6V905.4M310.5 888.9V884.1M313.5 894.2V873.3M316.5 899.3V883.5M317.9 901.3V888.3M322.8 900.6V893.1M332.5 903V902.8M338.1 899.9V899.1M340.7 898.6V891.9M350.1 914.5V902.4M355.2 927.8V918.9M365.1 919.8V904.3M366.9 910.1V902M375 865.4V862.1M401.1 931.4V923.4M402.9 941.4V931.2M415.7 968.7V966.9M416.2 969.8V968.6M423.6 970.7V970.2M425.6 968.7V965.1M444.8 964.8V964.4M447.6 963.8V961.9M449.4 963.2V962.6M451 962.5V953.3M452.8 961.9V958.1M457.9 963.5V959.3M459 963.9V963.7M466.6 964.9V964.5M467.1 964.9V961.9M481 967.6V961.8M487.6 965.6V955.1M488.9 965V963.8M491.7 960.5V946.7M494.5 953V939.8M501 932.6V913.4M502.3 923.6V917.9M505.5 887.6V869.3M511 891.1V884.4M514.6 900.1V885.4M519.1 883.6V856M520.1 874.2V868.6M524.9 832.9V814.6M527.7 827.4V805.2M531.7 823.4V816.5M532.6 823.7V796.9M536.4 831.7V831.2M543.3 824.1V820.9M544.4 825.2V794.3M547.3 845.2V833M551.9 832.7V823.4M556.9 820.3V805.8M559.4 816.4V810.3M565.1 808.7V778.6M571.6 840V834.9M575.4 863.7V854.2M578.4 875.7V875.5M583.6 889V886.6M585.8 877V865.6M587.3 873V866.6M588.3 873.7V863M590.2 883V872.6M598.9 870.6V859.4M600.7 868V856M607.7 885.6V865.4M609.6 880.2V875.5M630.4 864.3V852.8M640.4 849.6V832.6M653.9 796.4V789.5M658.1 836.2V821.1M661.8 902.7V902.6M664.2 952.7V952.3M710.6 911.3V909.5M729.6 982.8V982.4M736.2 881.9V872.5M737.5 891.9V889.1M741.5 932.8V930.4M743.2 954.8V952.7M744.1 965.8V939.6M745.9 971.2V945.7M750.2 979.2V978.4M754 982.2V972M755.2 981.2V975.2M758.4 978.2V976.3M761.8 974.2V950.8M771.8 975.8V963.8M776.7 985.8V969.9M779.7 989V979.4M783.3 991V989.3M785.3 992V985.4M788.2 989V988.5M795.4 986.5V978.2M803.5 994.5V982.6M812.1 981.8V980.1M819.7 965.6V946M819.9 964.1V963M822.5 961.1V955.4M823.6 959.6V959.6M825 956.6V954.5M834.1 987.5V972.2M838.7 989.9V989.9M840.3 990.9V978.3M842.6 991.9V990.6M849.6 995.4V995.1M854.7 994.3V986.7M867.2 991.7V981.6M868 990.2V975.8M873.1 982.7V982.6M877.2 975.7V972.8M879.1 971.7V962.2M880.2 969.7V958.3M883.7 963.7V960.6M890 990.8V990.8M894 994.8V994.7M897.4 993.3V979.3M904 987.5V984.6M906.8 984.5V967.4M913.6 981.2V980.5M915 980.2V978.7M921.9 973.6V971.3M931.4 995.9V988.1M932.4 999.4V993.1M933.1 1000.6V999.1M935.1 1001.6V998M937.8 1003.1V987.7M941.8 1006.7V994.9" stroke="#1f77b4" stroke-width="5.6" stroke-linecap="round" fill="none"/>
<path d="M118.6 928.1V927.8M124.2 931.5V927.9M130.2 920.4V920.3M135.9 941.5V939.5M139.6 953.4V944M146.5 946.8V929.4M163 946.1V936.9M172.7 935.8V924.2M173.5 919.8V894.9M173.8 917.5V895.8M178.6 906.1V896.1M181.9 920.1V916.7M182.8 914.7V900.3M184.6 928.8V927.2M186.9 927.6V916.5M189.8 940.5V939.2M201.6 923.1V918M204 894.5V858.2M205.9 900.3V881.1M207.4 909V907.8M221.2 909.8V909.6M223 901.9V899.4M227.7 874.8V845.8M231.3 892.4V885M239.9 883.4V871M243.2 889.6V882.5M243.8 886.9V875.4M246 882.6V864.3M250.8 884.2V882.6M255.5 855.4V823.3M276.8 903.7V901.6M277.7 907.3V907M279 909.8V907.7M283.7 915.4V907.6M284.5 921.4V912.9M290.8 908.7V904M293.2 905.4V899.1M310.5 884.1V878.3M313.5 873.3V847.7M316.5 883.5V864.1M317.9 888.3V872.4M322.8 893.1V883.9M332.5 902.8V902.6M338.1 899.1V898.1M340.7 891.9V883.8M350.1 902.4V887.7M355.2 918.9V908.1M365.1 904.3V885.5M366.9 902V892.1M375 862.1V858.1M401.1 923.4V913.6M402.9 931.2V918.7M415.7 966.9V964.7M416.2 968.6V967.2M423.6 970.2V969.7M425.6 965.1V960.6M444.8 964.4V963.9M447.6 961.9V959.6M449.4 962.6V962M451 953.3V942M452.8 958.1V953.6M457.9 959.3V954.1M459 963.7V963.6M466.6 964.5V964M467.1 961.9V958.3M481 961.8V954.7M487.6 955.1V942.2M488.9 963.8V962.3M491.7 946.7V929.8M494.5 939.8V923.6M501 913.4V890M502.3 917.9V910.9M505.5 869.3V846.8M511 884.4V876.2M514.6 885.4V867.4M519.1 856V822.3M520.1 868.6V861.7M524.9 814.6V792.2M527.7 805.2V778.2M531.7 816.5V808M532.6 796.9V764.2M536.4 831.2V830.5M543.3 820.9V817.1M544.4 794.3V756.6M547.3 833V817.9M551.9 823.4V812.1M556.9 805.8V788.1M559.4 810.3V802.8M565.1 778.6V741.8M571.6 834.9V828.7M575.4 854.2V842.6M578.4 875.5V875.3M583.6 886.6V883.7M585.8 865.6V851.5M587.3 866.6V858.7M588.3 863V850M590.2 872.6V859.9M598.9 859.4V845.8M600.7 856V841.4M607.7 865.4V840.8M609.6 875.5V869.8M630.4 852.8V838.7M640.4 832.6V811.8M653.9 789.5V781M658.1 821.1V802.7M661.8 902.6V902.6M664.2 952.3V951.9M710.6 909.5V907.3M729.6 982.4V981.9M736.2 872.5V861M737.5 889.1V885.7M741.5 930.4V927.6M743.2 952.7V950.2M744.1 939.6V907.5M745.9 945.7V914.6M750.2 978.4V977.5M754 972V959.6M755.2 975.2V967.9M758.4 976.3V974.1M761.8 950.8V922.2M771.8 963.8V949.3M776.7 969.9V950.4M779.7 979.4V967.8M783.3 989.3V987.2M785.3 985.4V977.3M788.2 988.5V987.9M795.4 978.2V968M803.5 982.6V968.2M812.1 980.1V977.9M819.7 946V922.1M819.9 963V961.8M822.5 955.4V948.4M823.6 959.6V959.6M825 954.5V951.9M834.1 972.2V953.5M838.7 989.9V989.9M840.3 978.3V963M842.6 990.6V989M849.6 995.1V994.8M854.7 986.7V977.4M867.2 981.6V969.3M868 975.8V958.2M873.1 982.6V982.4M877.2 972.8V969.2M879.1 962.2V950.5M880.2 958.3V944.3M883.7 960.6V956.8M890 990.8V990.8M894 994.7V994.5M897.4 979.3V962.2M904 984.6V981.1M906.8 967.4V946.4M913.6 980.5V979.7M915 978.7V977M921.9 971.3V968.5M931.4 988.1V978.5M932.4 993.1V985.3M933.1 999.1V997.2M935.1 998V993.7M937.8 987.7V968.8M941.8 994.9V980.6" stroke="#1f77b4" stroke-width="5.6" stroke-linecap="round" stroke-dasharray="0 6.5" fill="none"/>
<path d="M212.5 760.1h0M212.5 774.8h0M212.5 784.2h0M212.5 790.9h0M212.5 800.3h0M212.5 812.3h0M212.5 819h0M255.3 766.8h0M255.3 789.6h0M255.3 802.2h0M255.3 814.5h0M255.3 824.4h0M153.5 820.4h0M153.5 835.1h0M153.5 851.2h0M153.5 869.4h0M153.5 885.5h0M153.5 901.3h0M132.1 886h0M132.1 898.1h0M177.6 856.6h0M177.6 863.3h0M314.3 840.5h0M314.3 846.4h0M266.9 844.5h0M246.5 845.3h0M267.4 865.1h0M298.2 870h0M308.4 860.6h0M262.8 1008.8h0M287.5 1018.7h0M225.9 835.1h0M228.5 837.8h0M217.8 832.4h0M217.8 841.8h0M241.9 855.2h0M241.9 865.9h0M235.2 874h0M225.9 872.6h0M276.8 887.4h0M290.2 883.4h0M330.4 883.4h0M338.4 860.6h0M373.5 771.6h0M373.5 782.9h0M373.5 786.1h0M374.8 808.3h0M373.5 816.4h0M374.8 824.4h0M374.8 829.8h0M506.1 825.7h0M507.5 834.3h0M505.3 845.3h0M398.9 907.5h0M441.3 928.9h0M460.6 931.6h0M479.3 934.3h0M467.3 937.5h0M427.1 943.6h0M492.7 927.6h0M514.2 1009.3h0M520.9 1008h0M530.2 1002.6h0M536.9 1002.6h0M551.7 1007.4h0M353.4 884.7h0M341.3 860.6h0M341.3 868.6h0M654.3 597.3h0M654.3 615.7h0M654.3 618h0M654.3 663h0M654.3 665.3h0M654.3 717.6h0M651.5 734.4h0M655 737.4h0M566.3 668.3h0M566.3 687.6h0M566.3 695.2h0M566.3 705.6h0M566.3 712.5h0M566.3 720.6h0M593.3 770.1h0M594 786h0M595 791h0M595 802h0M602.2 802.4h0M611 813h0M631 805.4h0M637 802h0M637 809h0M735 720h0M735 730h0M754.6 951.6h0M760.1 949.5h0M621.4 1019.9h0M585.7 841.2h0M594.3 803.2h0M610.6 802.2h0M631.2 804.3h0M637.7 802.2h0M885.5 811.9h0M885.5 822.3h0M885.5 848.1h0M885.5 861.3h0M885.5 872.1h0M885.5 884.1h0M885.5 891h0M885.5 901h0M885.5 910.9h0M885.5 919.2h0M820.5 904h0M826.6 904h0M830.2 925.2h0M843.2 953.4h0M843.2 962h0M874.7 932.1h0M874.7 939.7h0M913.2 938.6h0M913.2 945.1h0M927.3 935.4h0M943.3 969h0M943.3 973.3h0M989.5 990.6h0M1007.9 997.6h0M809 958.1h0M1419.2 954.3h0M1419.2 959.9h0M1419.2 964.2h0M1450.4 919.1h0M1450.4 924.7h0M1450.4 927.4h0M1457.2 935.9h0M1403.7 994.2h0M1434.9 975.8h0M1438.9 979.8h0M178.3 889.2h0M184.3 923h0M187.3 916.4h0M201.3 903.8h0M206.3 879.2h0M221.3 854.7h0M223.3 865.5h0M231.3 881.1h0M244.3 865.1h0M276.3 894.8h0M284.3 887h0M316.3 854h0M323.3 883.4h0M332.3 884.8h0M403.3 918.2h0M415.3 961.7h0M416.3 959.9h0M444.3 934.7h0M447.3 957.1h0M449.3 938.5h0M453.3 938.4h0M458.3 951.9h0M481.3 942.8h0M494.3 914h0M514.3 842.6h0M519.3 804.7h0M520.3 812.3h0M525.3 757.8h0M536.3 767.6h0M544.3 752h0M552.3 797.2h0M571.3 793.6h0M586.3 845.3h0M587.3 828.4h0M658.3 795.9h0M741.3 922.6h0M750.3 950.4h0M755.3 967.2h0M762.3 921.5h0M772.3 922.5h0M779.3 948.3h0M795.3 967h0M803.3 962.3h0M825.3 943.9h0M849.3 974.3h0M877.3 956.4h0M894.3 957.7h0M904.3 971.8h0M913.3 975.8h0M915.3 948.5h0M931.3 959.8h0M935.3 972.2h0M938.3 967.3h0M942.3 979.6h0M121.7 1019.3h0M123.5 1014.9h0M131.4 1011.7h0M131.9 1013.8h0M141.7 1019.4h0M144 1017.6h0M153.6 1021.7h0M168.4 1014.9h0M170.1 1016.5h0M176.5 1016.1h0M184.4 1010.7h0M185.6 1016.6h0M188.3 1010.6h0M189.2 1011.2h0M191.1 1008.5h0M192 1012.5h0M194.2 1010.5h0M198.2 1012.1h0M202.2 1014.7h0M202.9 1012.5h0M204.3 1010.1h0M205.1 1013.4h0M213 1010h0M216.6 1007.9h0M217.8 1010.7h0M226 1009.8h0M233.6 1007.7h0M243.9 1004.6h0M245.7 1002.1h0M250.4 1001.8h0M267.2 1012h0M269.2 1009.9h0M274.3 1010.3h0M277.6 1010.4h0M280.6 1020.4h0M284.4 1021.5h0M289.8 1013.9h0M296.9 1009.7h0M298.1 1009.2h0M304.2 1008.8h0M312.7 1011.5h0M321.7 1012.7h0M321.9 1010.5h0M326 1016.2h0M327.3 1010.9h0M331.1 1010h0M338.2 1010.3h0M339.6 1010.6h0M342 1010.9h0M345.5 1012.5h0M358.3 1011.3h0M363.8 1010.9h0M377.6 1011.3h0M378.4 1012.4h0M379.8 1011.7h0M381.5 1011.4h0M386.9 1013.2h0M390.5 1012.8h0M392.5 1013.7h0M395.3 1013.5h0M396.6 1013.3h0M399.1 1013.2h0M405.9 1015.5h0M409.2 1015.5h0M413.2 1017h0M431.7 1017.7h0M431.8 1018.6h0M435.1 1020.2h0M436.2 1016.7h0M438.9 1016.1h0M440.8 1015.7h0M442.5 1018.3h0M445.5 1015.7h0M448.5 1018.5h0M453.6 1021h0M458.1 1020.2h0M460.6 1023.8h0M463.2 1019.2h0M472.8 1020.1h0M474.8 1020.1h0M476.7 1017.6h0M480 1017.6h0M481.3 1024.5h0M482.6 1018.5h0M482.8 1018.9h0M484.3 1019.5h0M485.6 1020.4h0M487.5 1021.5h0M489.7 1020.4h0M490.7 1020h0M491.8 1021.3h0M499.3 1017h0M501 1012.7h0M503.2 1009.2h0M505.3 1009.2h0M512.5 1006h0M515.4 1009.3h0M522.9 1000.6h0M526.6 1001.8h0M537.3 1003.4h0M538.7 998.5h0M539.8 997h0M553.2 1001.3h0M567.3 997.3h0M576.6 1014.1h0M580.4 1018.3h0M583.3 1013.4h0M587.7 1013.2h0M598 1012.8h0M604.3 1013.9h0M605.5 1011.8h0M611.6 1020.2h0M612.3 1014.2h0M618.9 1019.2h0M621.8 1017.6h0M630.5 1016.8h0M636.6 1013.6h0M637.6 1016.4h0M641.3 1010.3h0M644.5 1011.1h0M646.4 1013.6h0M653.5 1020.7h0M656.3 1018.1h0M660.1 1020.5h0M666.3 1025.6h0M674.4 1025.4h0M683.7 1034h0M684.6 1030.9h0M691.1 1029.4h0M699.4 1033.8h0M700.2 1027.5h0M703.1 1027.4h0M705.6 1025.5h0M706.4 1027.5h0M707.8 1027.9h0M710.3 1024.9h0M713.2 1027.9h0M716.5 1025.4h0M720.6 1025.9h0M723.8 1025.1h0M724.6 1023.9h0M725.8 1030.1h0M729.1 1022.5h0M731.7 1028.9h0M732.1 1022.1h0M733.2 1023.2h0M736.2 1021.1h0M737.2 1025.1h0M738.7 1025.2h0M743.3 1025.1h0M746.6 1021h0M750 1024.3h0M751.2 1021.1h0M758.5 1023.9h0M760.1 1028.3h0M779.9 1027.3h0M783.5 1029.2h0M795.3 1030.7h0M801.7 1028.7h0M805 1030h0M806.5 1025.6h0M806.8 1025.6h0M812.3 1031.2h0M813.5 1025.3h0M818.3 1024.8h0M827.7 1029.3h0M828.7 1025.3h0M830.6 1029.3h0M846.2 1028h0M848.6 1023h0M853 1022.3h0M854.9 1024.9h0M861.6 1021.2h0M865.6 1021.9h0M867.4 1025.3h0M873.2 1025.7h0M879.5 1026.9h0M880.1 1024.2h0M881.9 1029.6h0M884.8 1024.1h0M887.6 1024.5h0M889.5 1028h0M891.3 1025.4h0M902.1 1022.3h0M904.6 1022.1h0M905.1 1026.9h0M906 1024.8h0M911.9 1026.1h0M913 1023.8h0M928.7 1025.6h0M931.3 1032.3h0M932.7 1026.8h0M935.1 1029.7h0M942.9 1029.5h0" stroke="#1f77b4" stroke-width="5.6" stroke-linecap="round" fill="none"/><path d="M116 954.4 116 961.7 118.5 987 118.7 989.2 121 977.2 121.4 975.8 123.5 979.3 124 978.5 126 982.5 126.7 986.5 128.5 976.8 129.4 973.1 131 959.1 131.5 954.4 133.4 981.2 133.5 975.9 136 985.2 136.1 983.8 138.5 995.6 140.1 999.9 141 999 142.8 999.9 143.5 997.8 145.5 994.6 146 993 148.2 981.2 148.5 979.1 150.8 967.8 151 965.9 153 959.7 153.5 959.8 156 995.3 156.2 997.2 158.5 982 158.9 978.5 161 989.9 161.6 991.9 163.5 984.1 165.6 983.8 166 987.6 168.5 987.6 169.6 986.5 171 988 172.8 991.9 173.5 991.6 175.5 970.4 176 966.5 178.2 938.3 178.5 935.2 180.3 967.8 181 963.1 183.5 951.3 184.3 959.7 186 971.1 187 975.8 188.5 972.5 189.7 970.4 191 971.9 193.5 985.6 193.7 983.8 196 970.1 197.7 967.8 198.5 971 201 975 201.7 983.8 203.5 976.4 205.8 975.8 206 969.7 208.5 965.8 209.8 954.4 211 930.6 211.9 886 213.5 911.8 214.6 927.6 216 948.1 217.3 959.7 218.5 944.5 219.2 935.6 221 963.5 221.8 973.1 223.5 968.8 225.9 967.8 226 958.2 228.5 917 228.5 930.2 231 966.5 231.2 970.4 233.5 953.5 233.9 935.6 236 947.6 237.9 949 238.5 946 241 953.9 241.9 943.6 243.5 956.8 246 967.8 246 968 248.5 941.3 248.6 938.3 251 956.9 251.3 959.7 253.5 934.2 254.8 922.2 256 922.2 258 946.3 258.5 949.6 261 964.5 262 970.4 263.5 963.8 266 938.7 266.1 938.3 268.5 947.2 270.1 967.8 271 959.4 272.8 951.7 273.5 960.1 276 954.4 276.8 954.4 278.5 959.5 280.8 975.8 281 971.5 283.5 978.9 284.8 986.5 286 976.2 287.5 967.8 288.5 959.3 291 961.2 291.5 954.4 293.5 963 295.5 970.4 296 965.8 298.2 943.6 298.5 954.3 300.9 973.1 301 980 303.5 975.7 304.9 975.8 306 969.5 308.5 955.8 308.9 949 311 936.7 311.6 932.9 313.5 913.8 314.3 922.2 316 933.2 317 938.3 318.5 950.1 319.6 949 321 962.8 322.3 970.4 323.5 962.6 326 953.6 326.3 954.4 328.5 940.9 330.4 935.6 331 935.5 333.5 954.1 334.4 951.7 336 958.7 338.5 951.5 340 943.6 341 951.4 342.7 954.4 343.5 962.4 346 972.8 346.7 975.8 348.5 966.5 349.4 962.4 351 957.8 352.1 959.7 353.5 967.4 354.7 975.8 356 985.5 357.4 981.2 358.5 986.9 360.1 983.8 361 983 363.5 979.8 364.1 981.2 366 966.1 366.8 965.1 368.5 958.8 369.5 954.4 371 941.9 372.2 927.6 373.5 910.4 374.3 914.2 376 933.9 376.2 935.6 377.5 973.1 378.5 964.6 380.2 954.4 381 969.1 382.9 986.5 383.5 986.3 385.6 978.5 386 985.7 388.2 989.2 388.5 988.8 391 982.4 392.3 981.2 393.5 980.2 396 980 396.3 975.8 398.5 976.6 398.9 973.1 401 971.6 401.6 975.8 403.5 979 405.6 983.8 406 984.5 408.5 986.5 409.7 989.2 411 990 412.3 994.6 413.5 997.6 416 993 417.7 991.9 418.5 989.5 421 992.8 423.1 991.9 423.5 992.7 426 991.8 428.4 991.9 428.5 993.8 431 994.9 433.5 995.6 433.8 994.6 436 994.9 438.5 991.3 439.1 989.2 441 986.9 443.5 985.5 444.5 986.5 446 984 448.5 984.7 449.9 983.8 451 980.1 453.5 974.9 453.9 981.2 456 982.7 457.9 986.5 458.5 983.3 461 981.8 463.3 989.2 463.5 988.8 466 989.1 468.5 992.5 468.6 991.9 471 988.5 473.5 983.5 474 986.5 476 980 478 982.5 478.5 980 481 982.3 482 983.8 483.5 982.8 486 986.4 487.4 989.2 488.5 983.8 491 984.3 492.7 983.8 493.5 980.4 496 988.5 496.8 991.9 498.5 981.6 499.4 973.1 501 976.2 502.1 970.4 503.5 966.9 506 929.5 507.5 922.2 508.5 929.5 511 948.7 511.5 943.6 513.5 960.5 515.5 965.1 516 962.6 518.2 965.1 518.5 962.3 521 946.4 522.2 922.2 523.5 899.8 524.9 890.1 526 880.7 528.5 871.4 528.9 855.2 531 872.8 531.6 882 533.5 909 535.6 932.9 536 925.5 538.5 909.9 539.6 911.5 541 883.6 543.5 856.7 543.6 855.2 546 899.7 546.3 906.1 548.5 936.3 550.3 951.7 551 940.8 553.5 913.1 554.4 906.1 556 921.2 558.4 927.6 558.5 930.8 561 870.2 561.1 879.3 563.5 878.2 564 875 566 828.5 566.2 828.2 568.3 865 568.5 873.1 570.5 940.8 571 929 572.2 891 573.5 931.9 573.7 930 575.9 951.6 576 954.6 578.1 969 578.5 964.3 580.9 982 581 974.8 583.5 949.5 583.5 951 585.7 956 586 957.8 587.8 969 588.5 967.9 590 951.6 591 944.9 593.2 919.2 593.5 918.2 595.4 947.3 596 946.6 597.6 927.8 598.5 929.6 599.7 938.6 601 934.5 603 958.1 603.5 965.7 606 961.1 606.2 966.8 608.4 923.5 608.5 923.6 611 922.6 611.7 912.7 613.5 933.6 613.8 934.3 616 934.4 617.1 947.3 618.5 947.1 620.3 940.8 621 943.3 622.5 966.8 623.5 945.5 624.7 938.6 626 948.4 626.8 960.3 628.5 940.7 629 930 630.7 895.3 631 905.2 632.9 940.8 633.5 944.2 635.5 934.3 636 935.6 638.5 946.9 638.7 949.5 641 950.1 642 958.1 643.5 961.5 645.2 971.1 646 963.6 648.5 930 648.5 929 650.7 873.7 651 885.3 652.8 925.6 653.5 911.8 655 891 656 901.6 657.2 925.6 658.5 908.5 659.3 899.7 661 939 661.5 951.6 663.5 985.4 663.7 986.3 665.8 999.3 666 1001.3 668 1014.5 668.5 1016.7 671 1016.3 672.3 1016.6 673.5 1015.1 676 1011.6 676.7 1012.3 678.5 1013.8 681 1016.6 681 1017.3 683.5 1018.7 685.3 1021 686 1020.8 688.5 1021.5 689.6 1021 691 1021.7 693.5 1022.5 694 1023.1 696 1022.7 698.3 1021 698.5 1021.1 701 1018.7 702.6 1016.6 703.5 1012.7 705.9 995 706 995.4 708.1 925.6 708.5 939.6 710.2 995 711 966.4 712.4 921.3 713.5 937.5 714.6 951.6 716 994.6 716.7 1016.6 718.5 1013.4 720 1014.5 721 1016.2 723.5 1018.4 724.3 1018.8 726 1017.8 728.5 1013.6 728.6 1014.5 731 1009.6 731.9 1005.8 733.5 932.4 734.1 908.3 735.8 837.9 736 844.4 737.3 908.3 738.5 904.4 739.5 919.2 741 951.5 741.6 969 743.5 986.8 743.8 990.6 746 986.3 746 985.7 748.5 1000.5 749.2 1003.6 751 999.3 752.5 995 753.5 995.3 754.6 990.6 756 994.8 757.9 1001.5 758.5 996.7 761 988.2 761.1 988.5 763.5 988.6 764.4 986.3 766 984.3 766.6 977.6 768.5 963.4 768.7 956 770.9 995 771 991.4 773.5 991.1 774.1 990.6 776 1002.5 777.4 1005.8 778.5 1007.3 780.6 1008 781 1007.2 783.5 1008.2 785 1008 786 1003.6 788 997.1 788.5 1000.2 790.6 1008 791 1006.4 793.4 995 793.5 998.6 796 1013.4 796.7 1016.6 798.5 1012.3 799.9 1010.1 801 1010.7 803.2 1010.1 803.5 1011.3 806 1005.9 806.4 1005.8 808.5 991.9 808.6 992.8 810.7 1003.6 811 1000.1 813.5 1011.3 814 1012.3 816 1003.7 817.2 999.3 818.5 977.7 819.4 973.3 821 983 821.6 995 823.5 989.3 823.7 990.6 825.9 962.5 826 967.1 828.1 1008 828.5 1001.5 830.2 973.3 831 986.6 832.4 1008 833.5 999.6 834.6 995 836 996.4 837.8 1005.8 838.5 1005.7 841 1003 841.1 1001.5 843.5 1000.5 845.4 999.3 846 1004.4 848.5 1013.1 848.7 1014.5 851 1005.1 853 999.3 853.5 1002.7 856 1012.4 856.2 1010.1 858.5 1006.5 859.5 1003.6 861 1005.9 863.5 1001.5 863.8 1001.5 866 1006.1 868.2 1010.1 868.5 1009.1 871 999.6 871.4 1001.5 873.5 991.2 874.7 986.3 876 995.8 877.9 1003.6 878.5 1001.9 881 993.1 881.2 992.8 883.3 988.5 883.5 990.1 885.5 962.5 886 966.6 887.7 992.8 888.5 994.9 889.8 1008 891 1003 893.1 999.3 893.5 999.8 895.2 1014.5 896 1009.8 897.4 997.1 898.5 1002.2 900.7 1008 901 1006.3 903.5 1002.7 903.9 1003.6 906 1003 908.2 990.6 908.5 992.6 910.4 1001.5 911 995.9 912.6 988.5 913.5 994.2 915.8 1008 916 1008.7 918.5 1003.4 919.1 1001.5 921 1012.1 921.2 1014.5 923.5 998.1 924.5 995 926 989.3 927.1 984.1 928.5 996.4 929.9 1008 931 1010.3 933.1 1021 933.5 1021.5 935.3 1021 936 1019.7 938.5 1010.3 938.6 1010.1 941 1013 941.8 1014.5 943.5 1009.6 944 1008 946 1016.8 947.2 1023.1 948.5 1021.2 950.5 1021 951 1021.2 953.5 1021.6 954.8 1023.1 956 1023.1 958.5 1022.3 959.1 1023.1 961 1019 962.4 1016.6 963.5 1018 965.6 1021 966 1022.3 968.5 1020.6 970 1021 971 1019.7 973.5 1020.2 974.3 1021 976 1020.9 978.5 1022.5 978.6 1023.1 981 1021 983 1018.8 983.5 1019.8 986 1021.8 987.3 1021 988.5 1018.4 989.5 1016.6 991 1020.8 992.7 1021 993.5 1023.9 996 1025.3 996 1025.5 998.5 1020.3 999.2 1021 1001 1020.4 1002.5 1021 1003.5 1021.7 1005.7 1023.1 1006 1021.3 1008.5 1018.9 1009 1018.8 1011 1022.3 1012 1024.2 1013.5 1023.9 1016 1024.8 1016.6 1024.7 1018.5 1024 1019.6 1022.4 1021 1021.9 1022.7 1021.6 1023.5 1020.6 1024.9 1018.6 1026 1020.2 1027.2 1023.1 1028.5 1023 1031 1024.3 1031.8 1024.7 1033.5 1025.8 1036 1026.5 1036.4 1026.9 1038.5 1024 1039.4 1024.7 1041 1024.6 1043.5 1023.8 1044 1024.7 1046 1020.3 1047.8 1017 1048.5 1019.7 1051 1021.9 1051.6 1022.4 1053.5 1021.9 1056 1022 1056.2 1023.1 1058.5 1023.6 1060.7 1023.1 1061 1023.5 1063.5 1024.8 1065.3 1025.4 1066 1026.2 1068.5 1026.1 1069.9 1026.2 1071 1026.6 1072.9 1027.7 1073.5 1027.1 1076 1025.8 1077.5 1027.7 1078.5 1025.7 1081 1025.3 1081.3 1025.4 1083.5 1025.8 1085.1 1026.2 1086 1026.6 1088.5 1027 1091 1027.7 1091.2 1027.7 1093.5 1027.6 1096 1026.1 1097.3 1026.2 1098.5 1026.2 1101 1026.1 1103.4 1027.7 1103.5 1027.9 1106 1025.3 1106.4 1024.7 1108.5 1024.6 1111 1023.9 1111 1024.9 1113.5 1025.2 1115.5 1024.7 1116 1025 1118.5 1026.6 1118.6 1026.2 1121 1025.8 1123.5 1026.8 1124.7 1026.9 1126 1026.9 1128.5 1025.4 1129.3 1026.2 1131 1027.3 1133.5 1027.4 1133.8 1027.7 1136 1027.5 1138.5 1026.6 1141 1026.8 1141.4 1026.2 1143.5 1026.4 1146 1024.4 1146 1024.7 1148.5 1024.3 1151 1025.6 1152.1 1026.2 1153.5 1026.7 1156 1026.1 1158.2 1026.2 1158.5 1025.7 1161 1026 1163.5 1024 1164.3 1025.4 1166 1024.8 1168.5 1025.2 1171 1026.5 1173.4 1026.9 1173.5 1026.6 1176 1025.9 1178.5 1025.9 1179.5 1026.2 1181 1022.2 1183.3 1018.6 1183.5 1018.5 1186 1022.4 1187.1 1024.7 1188.5 1023.6 1190.2 1023.1 1191 1023.5 1193.5 1026.9 1194.7 1027.7 1196 1027.7 1198.5 1027.7 1201 1027.6 1203.5 1026.6 1203.9 1026.9 1206 1027.4 1208.5 1027.8 1210 1027.7 1211 1027.7 1213.5 1026.6 1216 1025.9 1216.1 1026.2 1218.5 1027.2 1221 1028.8 1222.1 1027.7 1223.5 1027.4 1226 1027.4 1228.2 1026.9 1228.5 1026.8 1231 1026.9 1232.8 1026.2 1233.5 1026.4 1236 1025.4 1236 1026.1 1238.5 1023.6 1241 1023.9 1242.4 1024.6 1243.5 1024.4 1246 1026.1 1248.5 1027.2 1248.8 1027.8 1251 1026.7 1253.5 1026.9 1255.2 1026.2 1256 1027.8 1258.5 1026.5 1260 1028.6 1261 1027.2 1263.5 1026.2 1265.6 1024.6 1266 1024.9 1268.5 1026.1 1271 1026.8 1271.1 1027.8 1273.5 1025.8 1276 1025.6 1277.5 1024.6 1278.5 1025.6 1281 1025.7 1283.5 1025.6 1283.9 1026.2 1286 1026.6 1288.5 1027.2 1290.3 1027.8 1291 1028 1293.5 1027.5 1296 1026.7 1296.7 1027 1298.5 1027.6 1301 1027.7 1301.5 1028.6 1303.5 1026.8 1304.7 1025.4 1306 1026.4 1308.5 1025.4 1311 1026.2 1311.1 1026.2 1313.5 1025.1 1316 1025.4 1317.5 1024.6 1318.5 1024.1 1321 1020.5 1322.3 1019 1323.5 1019.4 1326 1017.6 1327.1 1017.4 1328.5 1016.1 1331 1015.3 1331.8 1015.8 1333.5 1013.8 1334.2 1013.4 1336 1017.1 1336.6 1019 1338.5 1015.3 1339 1014.2 1341 1017 1343.5 1022.2 1344.6 1023.8 1346 1024.5 1348.5 1023.7 1349.4 1023.8 1351 1019.4 1353.4 1015.8 1353.5 1016.1 1356 1018.2 1357.4 1017.4 1358.5 1018.6 1361 1020 1362.2 1022.2 1363.5 1021.4 1366 1021.5 1368.5 1017.8 1368.6 1019 1371 1021.3 1371.8 1022.2 1373.5 1021.5 1376 1020 1376.6 1020.6 1378.5 1018.9 1379.8 1017.4 1381 1015.8 1383.5 1016 1384.6 1015.8 1386 1018.1 1388.5 1018.9 1389.4 1019 1391 1015.7 1392.5 1014.2 1393.5 1012.4 1396 1014 1398.5 1015 1398.9 1017.4 1401 1015.2 1403.5 1010.1 1403.7 1009.4 1406 1015.9 1406.1 1017.4 1408.5 1012.9 1411 1009.9 1411.7 1011 1413.5 1007.5 1416 1002.7 1418.5 1003.9 1419.7 999.8 1421 1004.6 1422.9 1012.6 1423.5 1012 1426 1015.8 1426.1 1015.8 1428.5 1010.8 1429.3 1006.2 1431 1008.3 1432.5 1004.6 1433.5 1005.8 1436 1009.4 1437.3 1011 1438.5 1010.9 1441 1010.6 1442.1 1009.4 1443.5 1005.8 1445.3 999.8 1446 993.5 1448.5 975.6 1449.3 975.8 1451 987.5 1452.5 998.2 1453.5 989.2 1455.6 979 1456 984.2 1458 993.4 1458.5 993.4 1461 983.2 1463.5 977.8 1464.4 977.4" stroke="#ff7f0e" stroke-width="2.5" fill="none" stroke-linejoin="round"/></g>
<rect x="116.5" y="575.5" width="1346.0" height="479.0" fill="none" stroke="#000" stroke-width="1.11"/>
<path d="M116.50 1054.5v5.4M284.75 1054.5v5.4M453.00 1054.5v5.4M621.25 1054.5v5.4M789.50 1054.5v5.4M957.75 1054.5v5.4M1126.00 1054.5v5.4M1294.25 1054.5v5.4M116.5 1034.30h-5.4M116.5 948.36h-5.4M116.5 862.42h-5.4M116.5 776.48h-5.4M116.5 690.54h-5.4M116.5 604.60h-5.4" stroke="#000" stroke-width="1.11" fill="none"/></g>
<g font-family="Liberation Sans, sans-serif" font-weight="bold" fill="#000"><text transform="translate(634.88,29.60) scale(1.1573,1.0)" font-size="28.213">10.0 MHz N0000039</text>
<text transform="translate(116.32,29.53) scale(1.1889,1.0)" font-size="28.213">(a)</text>
<text transform="translate(116.35,565.53) scale(1.1695,1.0)" font-size="28.213">(b)</text>
<text transform="translate(48.87,496.67) scale(1.2050,0.94)" font-size="23.510">−1.5</text>
<text transform="translate(48.85,428.67) scale(1.2270,0.94)" font-size="23.510">−1.0</text>
<text transform="translate(48.87,360.67) scale(1.2050,0.94)" font-size="23.510">−0.5</text>
<text transform="translate(65.86,291.67) scale(1.2086,0.94)" font-size="23.510">0.0</text>
<text transform="translate(66.89,223.67) scale(1.1770,0.94)" font-size="23.510">0.5</text>
<text transform="translate(68.19,154.67) scale(1.1843,0.94)" font-size="23.510">1.0</text>
<text transform="translate(68.24,86.67) scale(1.1524,0.94)" font-size="23.510">1.5</text>
<text transform="translate(50.87,1041.67) scale(1.2011,0.94)" font-size="23.510">0.00</text>
<text transform="translate(50.89,955.67) scale(1.1809,0.94)" font-size="23.510">0.02</text>
<text transform="translate(50.89,869.67) scale(1.1790,0.94)" font-size="23.510">0.04</text>
<text transform="translate(50.88,783.67) scale(1.1929,0.94)" font-size="23.510">0.06</text>
<text transform="translate(50.88,697.67) scale(1.1872,0.94)" font-size="23.510">0.08</text>
<text transform="translate(50.87,611.67) scale(1.2011,0.94)" font-size="23.510">0.10</text>
<text transform="translate(764.60,1157.67) scale(0.9956,0.94)" font-size="23.510">UTC</text>
<text transform="translate(36.33,391.74) rotate(-90) scale(1.1366,0.94)" font-size="23.510">Doppler Shift [Hz]</text>
<text transform="translate(39.22,919.75) rotate(-90) scale(1.1450,0.94)" font-size="23.510">Peak Voltage [V]</text>
<text transform="translate(18.82,1133.38) rotate(-30) scale(1.1836,0.94)" font-size="23.510">06-06 00</text>
<text transform="translate(186.84,1133.14) rotate(-30) scale(1.1736,0.94)" font-size="23.510">06-06 03</text>
<text transform="translate(354.54,1132.44) rotate(-30) scale(1.1797,0.94)" font-size="23.510">06-06 06</text>
<text transform="translate(522.38,1133.09) rotate(-30) scale(1.1772,0.94)" font-size="23.510">06-06 09</text>
<text transform="translate(691.35,1133.18) rotate(-30) scale(1.1739,0.94)" font-size="23.510">06-06 12</text>
<text transform="translate(859.95,1133.48) rotate(-30) scale(1.1730,0.94)" font-size="23.510">06-06 15</text>
<text transform="translate(1027.45,1133.39) rotate(-30) scale(1.1769,0.94)" font-size="23.510">06-06 18</text>
<text transform="translate(1195.06,1132.83) rotate(-30) scale(1.1730,0.94)" font-size="23.510">06-06 21</text>
<g><rect x="1047.7" y="48.30" width="405.5" height="80.00" rx="4.5" ry="4.5" fill="#fff" fill-opacity="0.8" stroke="#cccccc" stroke-width="1.11"/>
<circle cx="1073.5" cy="63.10" r="2.9" fill="#1f77b4"/>
<path d="M1053 101.70H1092" stroke="#ff7f0e" stroke-width="2.08"/>
<text transform="translate(1106.59,68.92) scale(1.1068,0.91)" font-size="19.592">Raw Data</text>
<text transform="translate(1106.54,95.42) scale(1.1466,0.91)" font-size="19.592">Butterworth Filtered Data</text>
<text transform="translate(1106.87,117.02) scale(1.1547,0.91)" font-size="19.592">(N=6, Tc=3.3333 min, Type: low)</text></g><g><rect x="1047.7" y="585.30" width="405.5" height="80.00" rx="4.5" ry="4.5" fill="#fff" fill-opacity="0.8" stroke="#cccccc" stroke-width="1.11"/>
<circle cx="1073.5" cy="599.60" r="2.9" fill="#1f77b4"/>
<path d="M1053 638.70H1092" stroke="#ff7f0e" stroke-width="2.08"/>
<text transform="translate(1106.59,604.92) scale(1.1068,0.91)" font-size="19.592">Raw Data</text>
<text transform="translate(1106.54,632.42) scale(1.1466,0.91)" font-size="19.592">Butterworth Filtered Data</text>
<text transform="translate(1106.87,654.02) scale(1.1547,0.91)" font-size="19.592">(N=6, Tc=3.3333 min, Type: low)</text></g></g>
</svg></body></html>
